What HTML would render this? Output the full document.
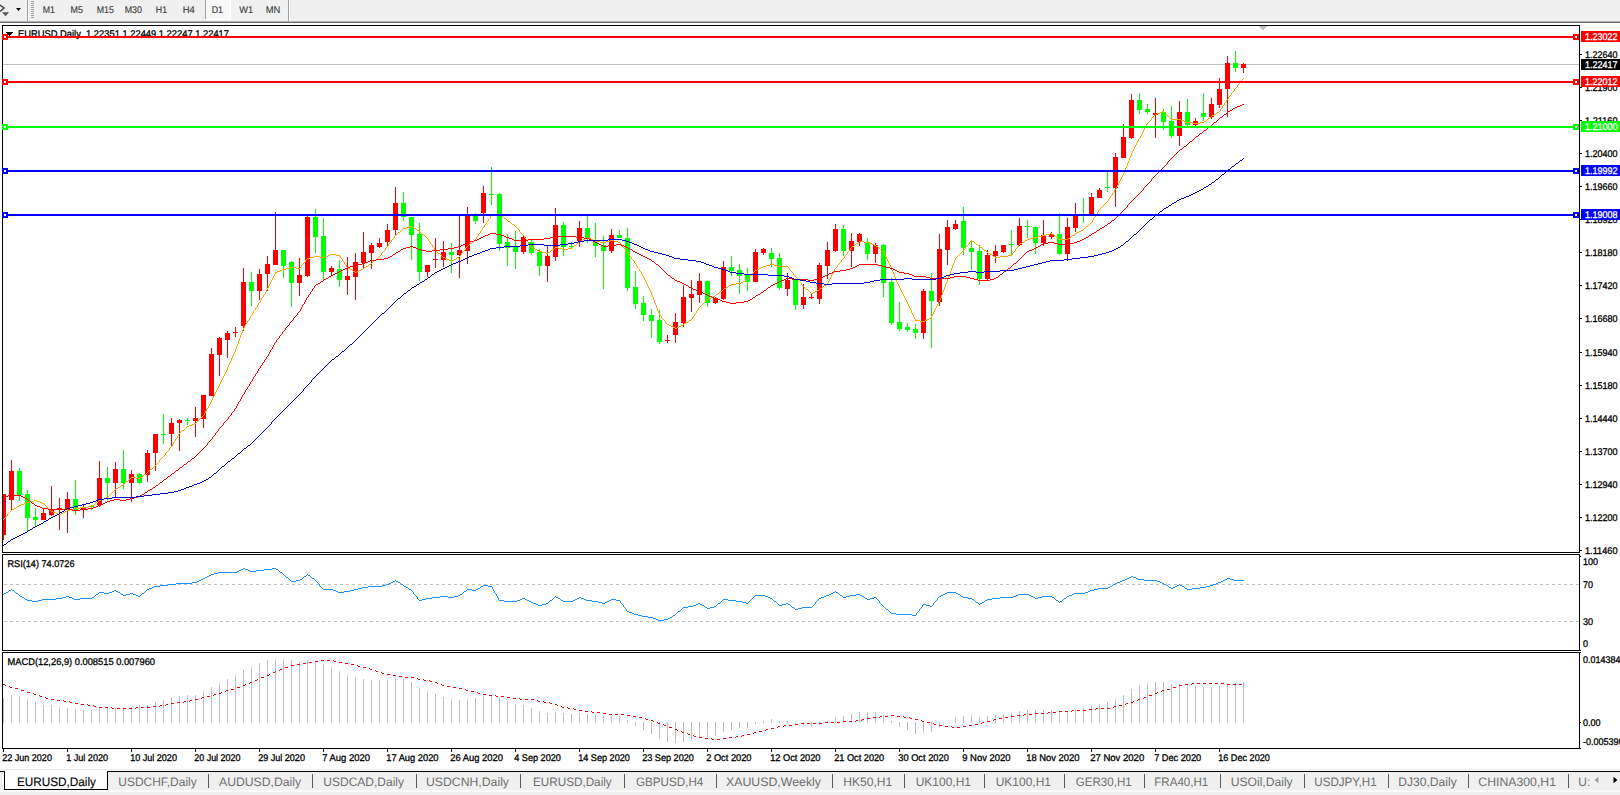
<!DOCTYPE html>
<html><head><meta charset="utf-8"><title>EURUSD,Daily</title>
<style>
html,body{margin:0;padding:0;background:#fff;overflow:hidden}
body{width:1620px;height:795px;position:relative;font-family:"Liberation Sans",sans-serif}
svg{position:absolute;left:0;top:0;display:block}
</style></head><body>
<svg width="1620" height="795" viewBox="0 0 1620 795" shape-rendering="crispEdges" text-rendering="geometricPrecision">
<rect x="0" y="0" width="1620" height="795" fill="#fff"/>
<!-- toolbar -->
<rect x="0" y="0" width="1620" height="21" fill="#f0f0f0"/>
<rect x="0" y="21" width="1620" height="1" fill="#b2b2b2"/>
<rect x="0" y="22" width="1620" height="1" fill="#6e6e6e"/>
<rect x="27" y="0" width="1" height="21" fill="#a0a0a0"/>
<rect x="28" y="0" width="1" height="21" fill="#ffffff"/>
<g fill="#a0a0a0"><rect x="31" y="1" width="3" height="1"/><rect x="31" y="3" width="3" height="1"/><rect x="31" y="5" width="3" height="1"/><rect x="31" y="7" width="3" height="1"/><rect x="31" y="9" width="3" height="1"/><rect x="31" y="11" width="3" height="1"/><rect x="31" y="13" width="3" height="1"/><rect x="31" y="15" width="3" height="1"/><rect x="31" y="17" width="3" height="1"/></g>
<rect x="206" y="0" width="24" height="19" fill="#f8f8f8"/>
<rect x="205" y="0" width="1" height="19" fill="#a0a0a0"/>
<rect x="206" y="19" width="25" height="1" fill="#fff"/><rect x="230" y="0" width="1" height="19" fill="#fff"/>
<rect x="288" y="0" width="1" height="21" fill="#a0a0a0"/><rect x="289" y="0" width="1" height="21" fill="#fff"/>
<path d="M16 8h5l-2.5 3z" fill="#000" shape-rendering="geometricPrecision"/>
<g shape-rendering="geometricPrecision"><path d="M0 5.2L4 8L0 11.5" stroke="#444" stroke-width="1.5" fill="none"/><path d="M2 12.3h7l-3.5 4z" fill="#555"/></g>
<g font-family="Liberation Sans, sans-serif" font-size="9px" fill="#444">
<text transform="translate(42.8,13) scale(0.9007,1)" font-size="9.75px" fill="#404040" stroke="#404040" stroke-width="0.15" xml:space="preserve">M1</text>
<text transform="translate(70.6,13) scale(0.9155,1)" font-size="9.75px" fill="#404040" stroke="#404040" stroke-width="0.15" xml:space="preserve">M5</text>
<text transform="translate(96.7,13) scale(0.9016,1)" font-size="9.75px" fill="#404040" stroke="#404040" stroke-width="0.15" xml:space="preserve">M15</text>
<text transform="translate(124.7,13) scale(0.9121,1)" font-size="9.75px" fill="#404040" stroke="#404040" stroke-width="0.15" xml:space="preserve">M30</text>
<text transform="translate(155.8,13) scale(0.8986,1)" font-size="9.75px" fill="#404040" stroke="#404040" stroke-width="0.15" xml:space="preserve">H1</text>
<text transform="translate(182.7,13) scale(0.9708,1)" font-size="9.75px" fill="#404040" stroke="#404040" stroke-width="0.15" xml:space="preserve">H4</text>
<text transform="translate(211.7,13) scale(0.9066,1)" font-size="9.75px" fill="#404040" stroke="#404040" stroke-width="0.15" xml:space="preserve">D1</text>
<text transform="translate(239.2,13) scale(0.9504,1)" font-size="9.75px" fill="#404040" stroke="#404040" stroke-width="0.15" xml:space="preserve">W1</text>
<text transform="translate(265.7,13) scale(0.9629,1)" font-size="9.75px" fill="#404040" stroke="#404040" stroke-width="0.15" xml:space="preserve">MN</text>
</g>
<!-- chart -->
<rect x="3" y="64" width="1576" height="1" fill="#c0c0c0"/>
<g font-family="Liberation Sans, sans-serif" font-size="9.3px" fill="#000">
<text transform="translate(18,37) scale(0.9588,1)" font-size="9.75px" fill="#000" stroke="#000" stroke-width="0.3" xml:space="preserve">EURUSD,Daily  1.22351 1.22449 1.22247 1.22417</text>
</g>
<path d="M6 32h7l-3.5 4z" fill="#000"/>
<path d="M1257 25h11l-5.5 5.5z" fill="#c0c0c0"/>
<rect x="3" y="494" width="1" height="46" fill="#ff0000"/>
<rect x="3" y="494" width="3" height="41" fill="#ff0000"/>
<rect x="11" y="460" width="1" height="51" fill="#ff0000"/>
<rect x="9" y="471" width="5" height="29" fill="#ff0000"/>
<rect x="19" y="468" width="1" height="33" fill="#00ff00"/>
<rect x="17" y="471" width="5" height="24" fill="#00ff00"/>
<rect x="27" y="490" width="1" height="41" fill="#00ff00"/>
<rect x="25" y="494" width="5" height="24" fill="#00ff00"/>
<rect x="35" y="508" width="1" height="19" fill="#00ff00"/>
<rect x="33" y="517" width="5" height="3" fill="#00ff00"/>
<rect x="43" y="509" width="1" height="11" fill="#ff0000"/>
<rect x="41" y="513" width="5" height="7" fill="#ff0000"/>
<rect x="51" y="486" width="1" height="30" fill="#ff0000"/>
<rect x="49" y="509" width="5" height="6" fill="#ff0000"/>
<rect x="59" y="498" width="1" height="32" fill="#ff0000"/>
<rect x="57" y="508" width="5" height="2" fill="#ff0000"/>
<rect x="67" y="492" width="1" height="41" fill="#ff0000"/>
<rect x="65" y="499" width="5" height="10" fill="#ff0000"/>
<rect x="75" y="480" width="1" height="35" fill="#00ff00"/>
<rect x="73" y="499" width="5" height="11" fill="#00ff00"/>
<rect x="83" y="505" width="1" height="13" fill="#ff0000"/>
<rect x="81" y="507" width="5" height="3" fill="#ff0000"/>
<rect x="91" y="505" width="1" height="5" fill="#00ff00"/>
<rect x="89" y="506" width="5" height="1" fill="#00ff00"/>
<rect x="99" y="461" width="1" height="46" fill="#ff0000"/>
<rect x="97" y="478" width="5" height="27" fill="#ff0000"/>
<rect x="107" y="467" width="1" height="33" fill="#00ff00"/>
<rect x="105" y="478" width="5" height="5" fill="#00ff00"/>
<rect x="115" y="462" width="1" height="36" fill="#ff0000"/>
<rect x="113" y="469" width="5" height="14" fill="#ff0000"/>
<rect x="123" y="450" width="1" height="39" fill="#00ff00"/>
<rect x="121" y="469" width="5" height="14" fill="#00ff00"/>
<rect x="131" y="470" width="1" height="32" fill="#ff0000"/>
<rect x="129" y="474" width="5" height="9" fill="#ff0000"/>
<rect x="139" y="473" width="1" height="11" fill="#00ff00"/>
<rect x="137" y="474" width="5" height="9" fill="#00ff00"/>
<rect x="147" y="450" width="1" height="32" fill="#ff0000"/>
<rect x="145" y="453" width="5" height="22" fill="#ff0000"/>
<rect x="155" y="434" width="1" height="37" fill="#ff0000"/>
<rect x="153" y="434" width="5" height="19" fill="#ff0000"/>
<rect x="163" y="414" width="1" height="30" fill="#00ff00"/>
<rect x="161" y="434" width="5" height="1" fill="#00ff00"/>
<rect x="171" y="418" width="1" height="29" fill="#ff0000"/>
<rect x="169" y="423" width="5" height="11" fill="#ff0000"/>
<rect x="179" y="419" width="1" height="32" fill="#ff0000"/>
<rect x="177" y="420" width="5" height="3" fill="#ff0000"/>
<rect x="187" y="418" width="1" height="7" fill="#00ff00"/>
<rect x="185" y="420" width="5" height="1" fill="#00ff00"/>
<rect x="195" y="407" width="1" height="30" fill="#ff0000"/>
<rect x="193" y="418" width="5" height="3" fill="#ff0000"/>
<rect x="203" y="395" width="1" height="33" fill="#ff0000"/>
<rect x="201" y="395" width="5" height="24" fill="#ff0000"/>
<rect x="211" y="348" width="1" height="48" fill="#ff0000"/>
<rect x="209" y="354" width="5" height="42" fill="#ff0000"/>
<rect x="219" y="337" width="1" height="39" fill="#ff0000"/>
<rect x="217" y="338" width="5" height="17" fill="#ff0000"/>
<rect x="227" y="331" width="1" height="27" fill="#ff0000"/>
<rect x="225" y="333" width="5" height="7" fill="#ff0000"/>
<rect x="235" y="327" width="1" height="10" fill="#ff0000"/>
<rect x="233" y="332" width="5" height="1" fill="#ff0000"/>
<rect x="243" y="268" width="1" height="63" fill="#ff0000"/>
<rect x="241" y="282" width="5" height="44" fill="#ff0000"/>
<rect x="251" y="272" width="1" height="34" fill="#00ff00"/>
<rect x="249" y="282" width="5" height="9" fill="#00ff00"/>
<rect x="259" y="269" width="1" height="31" fill="#ff0000"/>
<rect x="257" y="274" width="5" height="17" fill="#ff0000"/>
<rect x="267" y="256" width="1" height="35" fill="#ff0000"/>
<rect x="265" y="264" width="5" height="10" fill="#ff0000"/>
<rect x="275" y="212" width="1" height="53" fill="#ff0000"/>
<rect x="273" y="250" width="5" height="15" fill="#ff0000"/>
<rect x="283" y="250" width="1" height="28" fill="#00ff00"/>
<rect x="281" y="250" width="5" height="16" fill="#00ff00"/>
<rect x="291" y="261" width="1" height="46" fill="#00ff00"/>
<rect x="289" y="262" width="5" height="21" fill="#00ff00"/>
<rect x="299" y="258" width="1" height="38" fill="#ff0000"/>
<rect x="297" y="275" width="5" height="8" fill="#ff0000"/>
<rect x="307" y="215" width="1" height="62" fill="#ff0000"/>
<rect x="305" y="217" width="5" height="59" fill="#ff0000"/>
<rect x="315" y="209" width="1" height="44" fill="#00ff00"/>
<rect x="313" y="217" width="5" height="20" fill="#00ff00"/>
<rect x="323" y="218" width="1" height="63" fill="#00ff00"/>
<rect x="321" y="236" width="5" height="36" fill="#00ff00"/>
<rect x="331" y="266" width="1" height="9" fill="#ff0000"/>
<rect x="329" y="268" width="5" height="4" fill="#ff0000"/>
<rect x="339" y="260" width="1" height="27" fill="#00ff00"/>
<rect x="337" y="269" width="5" height="11" fill="#00ff00"/>
<rect x="347" y="257" width="1" height="38" fill="#ff0000"/>
<rect x="345" y="276" width="5" height="4" fill="#ff0000"/>
<rect x="355" y="253" width="1" height="47" fill="#ff0000"/>
<rect x="353" y="262" width="5" height="15" fill="#ff0000"/>
<rect x="363" y="232" width="1" height="36" fill="#ff0000"/>
<rect x="361" y="252" width="5" height="11" fill="#ff0000"/>
<rect x="371" y="243" width="1" height="26" fill="#ff0000"/>
<rect x="369" y="245" width="5" height="8" fill="#ff0000"/>
<rect x="379" y="238" width="1" height="10" fill="#ff0000"/>
<rect x="377" y="243" width="5" height="4" fill="#ff0000"/>
<rect x="387" y="224" width="1" height="22" fill="#ff0000"/>
<rect x="385" y="230" width="5" height="12" fill="#ff0000"/>
<rect x="395" y="187" width="1" height="48" fill="#ff0000"/>
<rect x="393" y="203" width="5" height="27" fill="#ff0000"/>
<rect x="403" y="192" width="1" height="29" fill="#00ff00"/>
<rect x="401" y="203" width="5" height="14" fill="#00ff00"/>
<rect x="411" y="217" width="1" height="43" fill="#00ff00"/>
<rect x="409" y="217" width="5" height="18" fill="#00ff00"/>
<rect x="419" y="223" width="1" height="58" fill="#00ff00"/>
<rect x="417" y="234" width="5" height="38" fill="#00ff00"/>
<rect x="427" y="265" width="1" height="12" fill="#ff0000"/>
<rect x="425" y="265" width="5" height="7" fill="#ff0000"/>
<rect x="435" y="238" width="1" height="30" fill="#ff0000"/>
<rect x="433" y="259" width="5" height="1" fill="#ff0000"/>
<rect x="443" y="241" width="1" height="26" fill="#ff0000"/>
<rect x="441" y="252" width="5" height="8" fill="#ff0000"/>
<rect x="451" y="243" width="1" height="30" fill="#00ff00"/>
<rect x="449" y="252" width="5" height="3" fill="#00ff00"/>
<rect x="459" y="216" width="1" height="62" fill="#ff0000"/>
<rect x="457" y="250" width="5" height="5" fill="#ff0000"/>
<rect x="467" y="207" width="1" height="57" fill="#ff0000"/>
<rect x="465" y="216" width="5" height="35" fill="#ff0000"/>
<rect x="475" y="213" width="1" height="11" fill="#00ff00"/>
<rect x="473" y="216" width="5" height="5" fill="#00ff00"/>
<rect x="483" y="186" width="1" height="37" fill="#ff0000"/>
<rect x="481" y="193" width="5" height="20" fill="#ff0000"/>
<rect x="491" y="167" width="1" height="38" fill="#00ff00"/>
<rect x="489" y="194" width="5" height="1" fill="#00ff00"/>
<rect x="499" y="193" width="1" height="58" fill="#00ff00"/>
<rect x="497" y="194" width="5" height="50" fill="#00ff00"/>
<rect x="507" y="234" width="1" height="32" fill="#00ff00"/>
<rect x="505" y="242" width="5" height="6" fill="#00ff00"/>
<rect x="515" y="231" width="1" height="38" fill="#00ff00"/>
<rect x="513" y="246" width="5" height="6" fill="#00ff00"/>
<rect x="523" y="236" width="1" height="18" fill="#ff0000"/>
<rect x="521" y="237" width="5" height="15" fill="#ff0000"/>
<rect x="531" y="239" width="1" height="16" fill="#00ff00"/>
<rect x="529" y="242" width="5" height="11" fill="#00ff00"/>
<rect x="539" y="249" width="1" height="27" fill="#00ff00"/>
<rect x="537" y="252" width="5" height="14" fill="#00ff00"/>
<rect x="547" y="246" width="1" height="36" fill="#ff0000"/>
<rect x="545" y="256" width="5" height="10" fill="#ff0000"/>
<rect x="555" y="208" width="1" height="53" fill="#ff0000"/>
<rect x="553" y="225" width="5" height="32" fill="#ff0000"/>
<rect x="563" y="222" width="1" height="34" fill="#00ff00"/>
<rect x="561" y="225" width="5" height="22" fill="#00ff00"/>
<rect x="571" y="242" width="1" height="6" fill="#00ff00"/>
<rect x="569" y="246" width="5" height="1" fill="#00ff00"/>
<rect x="579" y="221" width="1" height="26" fill="#ff0000"/>
<rect x="577" y="228" width="5" height="13" fill="#ff0000"/>
<rect x="587" y="216" width="1" height="27" fill="#00ff00"/>
<rect x="585" y="228" width="5" height="11" fill="#00ff00"/>
<rect x="595" y="223" width="1" height="34" fill="#00ff00"/>
<rect x="593" y="240" width="5" height="6" fill="#00ff00"/>
<rect x="603" y="236" width="1" height="53" fill="#00ff00"/>
<rect x="601" y="245" width="5" height="6" fill="#00ff00"/>
<rect x="611" y="229" width="1" height="24" fill="#ff0000"/>
<rect x="609" y="235" width="5" height="16" fill="#ff0000"/>
<rect x="619" y="230" width="1" height="8" fill="#00ff00"/>
<rect x="617" y="235" width="5" height="3" fill="#00ff00"/>
<rect x="627" y="228" width="1" height="63" fill="#00ff00"/>
<rect x="625" y="238" width="5" height="50" fill="#00ff00"/>
<rect x="635" y="271" width="1" height="38" fill="#00ff00"/>
<rect x="633" y="287" width="5" height="17" fill="#00ff00"/>
<rect x="643" y="296" width="1" height="25" fill="#00ff00"/>
<rect x="641" y="303" width="5" height="12" fill="#00ff00"/>
<rect x="651" y="309" width="1" height="29" fill="#00ff00"/>
<rect x="649" y="315" width="5" height="6" fill="#00ff00"/>
<rect x="659" y="310" width="1" height="34" fill="#00ff00"/>
<rect x="657" y="320" width="5" height="22" fill="#00ff00"/>
<rect x="667" y="335" width="1" height="8" fill="#ff0000"/>
<rect x="665" y="340" width="5" height="1" fill="#ff0000"/>
<rect x="675" y="313" width="1" height="30" fill="#ff0000"/>
<rect x="673" y="322" width="5" height="13" fill="#ff0000"/>
<rect x="683" y="285" width="1" height="42" fill="#ff0000"/>
<rect x="681" y="297" width="5" height="26" fill="#ff0000"/>
<rect x="691" y="280" width="1" height="32" fill="#ff0000"/>
<rect x="689" y="294" width="5" height="4" fill="#ff0000"/>
<rect x="699" y="273" width="1" height="30" fill="#ff0000"/>
<rect x="697" y="281" width="5" height="14" fill="#ff0000"/>
<rect x="707" y="281" width="1" height="26" fill="#00ff00"/>
<rect x="705" y="281" width="5" height="22" fill="#00ff00"/>
<rect x="715" y="297" width="1" height="7" fill="#ff0000"/>
<rect x="713" y="298" width="5" height="5" fill="#ff0000"/>
<rect x="723" y="261" width="1" height="39" fill="#ff0000"/>
<rect x="721" y="267" width="5" height="32" fill="#ff0000"/>
<rect x="731" y="256" width="1" height="20" fill="#00ff00"/>
<rect x="729" y="267" width="5" height="4" fill="#00ff00"/>
<rect x="739" y="264" width="1" height="30" fill="#00ff00"/>
<rect x="737" y="270" width="5" height="6" fill="#00ff00"/>
<rect x="747" y="268" width="1" height="23" fill="#00ff00"/>
<rect x="745" y="275" width="5" height="7" fill="#00ff00"/>
<rect x="755" y="249" width="1" height="33" fill="#ff0000"/>
<rect x="753" y="252" width="5" height="30" fill="#ff0000"/>
<rect x="763" y="248" width="1" height="7" fill="#ff0000"/>
<rect x="761" y="249" width="5" height="4" fill="#ff0000"/>
<rect x="771" y="248" width="1" height="19" fill="#00ff00"/>
<rect x="769" y="253" width="5" height="6" fill="#00ff00"/>
<rect x="779" y="253" width="1" height="37" fill="#00ff00"/>
<rect x="777" y="258" width="5" height="30" fill="#00ff00"/>
<rect x="787" y="273" width="1" height="23" fill="#ff0000"/>
<rect x="785" y="280" width="5" height="9" fill="#ff0000"/>
<rect x="795" y="280" width="1" height="30" fill="#00ff00"/>
<rect x="793" y="280" width="5" height="25" fill="#00ff00"/>
<rect x="803" y="284" width="1" height="25" fill="#ff0000"/>
<rect x="801" y="297" width="5" height="8" fill="#ff0000"/>
<rect x="811" y="293" width="1" height="6" fill="#ff0000"/>
<rect x="809" y="297" width="5" height="1" fill="#ff0000"/>
<rect x="819" y="263" width="1" height="41" fill="#ff0000"/>
<rect x="817" y="265" width="5" height="34" fill="#ff0000"/>
<rect x="827" y="242" width="1" height="37" fill="#ff0000"/>
<rect x="825" y="250" width="5" height="16" fill="#ff0000"/>
<rect x="835" y="224" width="1" height="28" fill="#ff0000"/>
<rect x="833" y="229" width="5" height="22" fill="#ff0000"/>
<rect x="843" y="225" width="1" height="31" fill="#00ff00"/>
<rect x="841" y="229" width="5" height="22" fill="#00ff00"/>
<rect x="851" y="233" width="1" height="34" fill="#ff0000"/>
<rect x="849" y="241" width="5" height="10" fill="#ff0000"/>
<rect x="859" y="233" width="1" height="13" fill="#ff0000"/>
<rect x="857" y="234" width="5" height="8" fill="#ff0000"/>
<rect x="867" y="238" width="1" height="22" fill="#00ff00"/>
<rect x="865" y="242" width="5" height="12" fill="#00ff00"/>
<rect x="875" y="243" width="1" height="20" fill="#ff0000"/>
<rect x="873" y="245" width="5" height="9" fill="#ff0000"/>
<rect x="883" y="244" width="1" height="53" fill="#00ff00"/>
<rect x="881" y="245" width="5" height="38" fill="#00ff00"/>
<rect x="891" y="278" width="1" height="47" fill="#00ff00"/>
<rect x="889" y="282" width="5" height="41" fill="#00ff00"/>
<rect x="899" y="302" width="1" height="29" fill="#00ff00"/>
<rect x="897" y="322" width="5" height="7" fill="#00ff00"/>
<rect x="907" y="323" width="1" height="9" fill="#00ff00"/>
<rect x="905" y="327" width="5" height="3" fill="#00ff00"/>
<rect x="915" y="324" width="1" height="15" fill="#00ff00"/>
<rect x="913" y="329" width="5" height="4" fill="#00ff00"/>
<rect x="923" y="289" width="1" height="50" fill="#ff0000"/>
<rect x="921" y="291" width="5" height="42" fill="#ff0000"/>
<rect x="931" y="273" width="1" height="75" fill="#00ff00"/>
<rect x="929" y="291" width="5" height="10" fill="#00ff00"/>
<rect x="939" y="234" width="1" height="72" fill="#ff0000"/>
<rect x="937" y="249" width="5" height="53" fill="#ff0000"/>
<rect x="947" y="220" width="1" height="45" fill="#ff0000"/>
<rect x="945" y="227" width="5" height="23" fill="#ff0000"/>
<rect x="955" y="220" width="1" height="10" fill="#ff0000"/>
<rect x="953" y="224" width="5" height="5" fill="#ff0000"/>
<rect x="963" y="207" width="1" height="48" fill="#00ff00"/>
<rect x="961" y="221" width="5" height="27" fill="#00ff00"/>
<rect x="971" y="240" width="1" height="30" fill="#00ff00"/>
<rect x="969" y="248" width="5" height="4" fill="#00ff00"/>
<rect x="979" y="245" width="1" height="40" fill="#00ff00"/>
<rect x="977" y="251" width="5" height="28" fill="#00ff00"/>
<rect x="987" y="250" width="1" height="30" fill="#ff0000"/>
<rect x="985" y="255" width="5" height="24" fill="#ff0000"/>
<rect x="995" y="245" width="1" height="18" fill="#ff0000"/>
<rect x="993" y="251" width="5" height="5" fill="#ff0000"/>
<rect x="1003" y="245" width="1" height="8" fill="#ff0000"/>
<rect x="1001" y="245" width="5" height="7" fill="#ff0000"/>
<rect x="1011" y="230" width="1" height="25" fill="#00ff00"/>
<rect x="1009" y="244" width="5" height="1" fill="#00ff00"/>
<rect x="1019" y="218" width="1" height="28" fill="#ff0000"/>
<rect x="1017" y="226" width="5" height="19" fill="#ff0000"/>
<rect x="1027" y="220" width="1" height="18" fill="#00ff00"/>
<rect x="1025" y="226" width="5" height="1" fill="#00ff00"/>
<rect x="1035" y="226" width="1" height="28" fill="#00ff00"/>
<rect x="1033" y="227" width="5" height="16" fill="#00ff00"/>
<rect x="1043" y="220" width="1" height="26" fill="#ff0000"/>
<rect x="1041" y="235" width="5" height="8" fill="#ff0000"/>
<rect x="1051" y="232" width="1" height="7" fill="#ff0000"/>
<rect x="1049" y="234" width="5" height="3" fill="#ff0000"/>
<rect x="1059" y="213" width="1" height="42" fill="#00ff00"/>
<rect x="1057" y="234" width="5" height="20" fill="#00ff00"/>
<rect x="1067" y="218" width="1" height="43" fill="#ff0000"/>
<rect x="1065" y="227" width="5" height="27" fill="#ff0000"/>
<rect x="1075" y="203" width="1" height="29" fill="#ff0000"/>
<rect x="1073" y="215" width="5" height="13" fill="#ff0000"/>
<rect x="1083" y="198" width="1" height="25" fill="#00ff00"/>
<rect x="1081" y="215" width="5" height="1" fill="#00ff00"/>
<rect x="1091" y="193" width="1" height="21" fill="#ff0000"/>
<rect x="1089" y="197" width="5" height="17" fill="#ff0000"/>
<rect x="1099" y="188" width="1" height="10" fill="#ff0000"/>
<rect x="1097" y="190" width="5" height="8" fill="#ff0000"/>
<rect x="1107" y="172" width="1" height="20" fill="#00ff00"/>
<rect x="1105" y="187" width="5" height="1" fill="#00ff00"/>
<rect x="1115" y="153" width="1" height="54" fill="#ff0000"/>
<rect x="1113" y="157" width="5" height="31" fill="#ff0000"/>
<rect x="1123" y="124" width="1" height="34" fill="#ff0000"/>
<rect x="1121" y="137" width="5" height="21" fill="#ff0000"/>
<rect x="1131" y="94" width="1" height="45" fill="#ff0000"/>
<rect x="1129" y="100" width="5" height="38" fill="#ff0000"/>
<rect x="1139" y="93" width="1" height="21" fill="#00ff00"/>
<rect x="1137" y="100" width="5" height="10" fill="#00ff00"/>
<rect x="1147" y="104" width="1" height="10" fill="#00ff00"/>
<rect x="1145" y="109" width="5" height="3" fill="#00ff00"/>
<rect x="1155" y="98" width="1" height="40" fill="#ff0000"/>
<rect x="1153" y="113" width="5" height="2" fill="#ff0000"/>
<rect x="1163" y="109" width="1" height="21" fill="#00ff00"/>
<rect x="1161" y="112" width="5" height="10" fill="#00ff00"/>
<rect x="1171" y="106" width="1" height="32" fill="#00ff00"/>
<rect x="1169" y="121" width="5" height="15" fill="#00ff00"/>
<rect x="1179" y="101" width="1" height="45" fill="#ff0000"/>
<rect x="1177" y="112" width="5" height="24" fill="#ff0000"/>
<rect x="1187" y="99" width="1" height="27" fill="#00ff00"/>
<rect x="1185" y="112" width="5" height="13" fill="#00ff00"/>
<rect x="1195" y="118" width="1" height="8" fill="#ff0000"/>
<rect x="1193" y="121" width="5" height="4" fill="#ff0000"/>
<rect x="1203" y="93" width="1" height="28" fill="#00ff00"/>
<rect x="1201" y="113" width="5" height="4" fill="#00ff00"/>
<rect x="1211" y="98" width="1" height="21" fill="#ff0000"/>
<rect x="1209" y="104" width="5" height="13" fill="#ff0000"/>
<rect x="1219" y="78" width="1" height="30" fill="#ff0000"/>
<rect x="1217" y="89" width="5" height="16" fill="#ff0000"/>
<rect x="1227" y="56" width="1" height="61" fill="#ff0000"/>
<rect x="1225" y="63" width="5" height="26" fill="#ff0000"/>
<rect x="1235" y="51" width="1" height="21" fill="#00ff00"/>
<rect x="1233" y="63" width="5" height="5" fill="#00ff00"/>
<rect x="1243" y="63" width="1" height="10" fill="#ff0000"/>
<rect x="1241" y="64" width="5" height="4" fill="#ff0000"/>
<path d="M1243 78h1v1h-1zM1242 79h1v1h-1zM1241 80h1v1h-1zM1241 81h1v1h-1zM1240 82h1v1h-1zM1239 83h1v1h-1zM1238 84h1v1h-1zM1237 85h1v1h-1zM1237 86h1v1h-1zM1236 87h1v1h-1zM1235 88h1v1h-1zM1234 89h1v1h-1zM1234 90h1v1h-1zM1233 91h1v1h-1zM1232 92h1v1h-1zM1231 93h1v1h-1zM1231 94h1v1h-1zM1230 95h1v1h-1zM1229 96h1v1h-1zM1228 97h1v1h-1zM1228 98h1v1h-1zM1227 99h1v1h-1zM1226 100h1v1h-1zM1226 101h1v1h-1zM1225 102h1v1h-1zM1224 103h1v1h-1zM1224 104h1v1h-1zM1223 105h1v1h-1zM1222 106h1v1h-1zM1222 107h1v1h-1zM1221 108h1v1h-1zM1220 109h1v1h-1zM1220 110h1v1h-1zM1162 111h2v1h-2zM1219 111h1v1h-1zM1160 112h2v1h-2zM1164 112h1v1h-1zM1217 112h2v1h-2zM1157 113h3v1h-3zM1165 113h1v1h-1zM1216 113h1v1h-1zM1155 114h2v1h-2zM1166 114h1v1h-1zM1214 114h2v1h-2zM1154 115h1v1h-1zM1167 115h1v1h-1zM1212 115h2v1h-2zM1153 116h1v1h-1zM1168 116h1v1h-1zM1211 116h1v1h-1zM1152 117h1v1h-1zM1169 117h1v1h-1zM1210 117h1v1h-1zM1151 118h1v1h-1zM1170 118h1v1h-1zM1208 118h2v1h-2zM1151 119h1v1h-1zM1171 119h10v1h-10zM1207 119h1v1h-1zM1150 120h1v1h-1zM1181 120h3v1h-3zM1206 120h1v1h-1zM1149 121h1v1h-1zM1184 121h2v1h-2zM1204 121h2v1h-2zM1148 122h1v1h-1zM1186 122h6v1h-6zM1200 122h4v1h-4zM1147 123h1v1h-1zM1192 123h8v1h-8zM1146 124h1v1h-1zM1146 125h1v1h-1zM1145 126h1v1h-1zM1145 127h1v1h-1zM1144 128h1v1h-1zM1144 129h1v1h-1zM1143 130h1v1h-1zM1143 131h1v1h-1zM1142 132h1v1h-1zM1142 133h1v1h-1zM1141 134h1v1h-1zM1141 135h1v1h-1zM1140 136h1v1h-1zM1140 137h1v1h-1zM1139 138h1v1h-1zM1138 139h1v1h-1zM1138 140h1v1h-1zM1137 141h1v1h-1zM1137 142h1v1h-1zM1136 143h1v1h-1zM1136 144h1v1h-1zM1135 145h1v1h-1zM1135 146h1v1h-1zM1134 147h1v1h-1zM1134 148h1v1h-1zM1133 149h1v1h-1zM1133 150h1v1h-1zM1132 151h1v1h-1zM1132 152h1v1h-1zM1131 153h1v1h-1zM1131 154h1v1h-1zM1131 155h1v1h-1zM1130 156h1v1h-1zM1130 157h1v1h-1zM1129 158h1v1h-1zM1129 159h1v1h-1zM1129 160h1v1h-1zM1128 161h1v1h-1zM1128 162h1v1h-1zM1127 163h1v1h-1zM1127 164h1v1h-1zM1127 165h1v1h-1zM1126 166h1v1h-1zM1126 167h1v1h-1zM1125 168h1v1h-1zM1125 169h1v1h-1zM1125 170h1v1h-1zM1124 171h1v1h-1zM1124 172h1v1h-1zM1123 173h1v1h-1zM1123 174h1v1h-1zM1122 175h1v1h-1zM1122 176h1v1h-1zM1121 177h1v1h-1zM1121 178h1v1h-1zM1120 179h1v1h-1zM1120 180h1v1h-1zM1119 181h1v1h-1zM1119 182h1v1h-1zM1118 183h1v1h-1zM1118 184h1v1h-1zM1117 185h1v1h-1zM1117 186h1v1h-1zM1116 187h1v1h-1zM1116 188h1v1h-1zM1115 189h1v1h-1zM1114 190h1v1h-1zM1114 191h1v1h-1zM1113 192h1v1h-1zM1112 193h1v1h-1zM1112 194h1v1h-1zM1111 195h1v1h-1zM1110 196h1v1h-1zM1110 197h1v1h-1zM1109 198h1v1h-1zM1108 199h1v1h-1zM1108 200h1v1h-1zM1107 201h1v1h-1zM1106 202h1v1h-1zM1105 203h1v1h-1zM1104 204h1v1h-1zM1103 205h1v1h-1zM1102 206h1v1h-1zM1101 207h1v1h-1zM1100 208h1v1h-1zM1099 209h1v1h-1zM1098 210h1v1h-1zM1098 211h1v1h-1zM1097 212h1v1h-1zM1097 213h1v1h-1zM496 214h4v1h-4zM1096 214h1v1h-1zM491 215h5v1h-5zM500 215h2v1h-2zM1095 215h1v1h-1zM490 216h1v1h-1zM502 216h1v1h-1zM1095 216h1v1h-1zM490 217h1v1h-1zM503 217h1v1h-1zM1094 217h1v1h-1zM489 218h1v1h-1zM504 218h2v1h-2zM1093 218h1v1h-1zM488 219h1v1h-1zM506 219h1v1h-1zM1093 219h1v1h-1zM488 220h1v1h-1zM507 220h1v1h-1zM1092 220h1v1h-1zM487 221h1v1h-1zM508 221h2v1h-2zM1092 221h1v1h-1zM486 222h1v1h-1zM510 222h1v1h-1zM1091 222h1v1h-1zM486 223h1v1h-1zM511 223h1v1h-1zM1090 223h1v1h-1zM485 224h1v1h-1zM512 224h2v1h-2zM1089 224h1v1h-1zM484 225h1v1h-1zM514 225h1v1h-1zM1088 225h1v1h-1zM410 226h2v1h-2zM484 226h1v1h-1zM515 226h1v1h-1zM1086 226h2v1h-2zM406 227h4v1h-4zM412 227h2v1h-2zM483 227h1v1h-1zM516 227h1v1h-1zM1085 227h1v1h-1zM403 228h3v1h-3zM414 228h2v1h-2zM482 228h1v1h-1zM517 228h1v1h-1zM1084 228h1v1h-1zM402 229h1v1h-1zM416 229h1v1h-1zM482 229h1v1h-1zM518 229h1v1h-1zM1083 229h1v1h-1zM401 230h1v1h-1zM417 230h2v1h-2zM481 230h1v1h-1zM519 230h1v1h-1zM1081 230h2v1h-2zM400 231h1v1h-1zM419 231h1v1h-1zM480 231h1v1h-1zM519 231h1v1h-1zM1079 231h2v1h-2zM398 232h2v1h-2zM420 232h1v1h-1zM480 232h1v1h-1zM520 232h1v1h-1zM1077 232h2v1h-2zM397 233h1v1h-1zM421 233h1v1h-1zM479 233h1v1h-1zM521 233h1v1h-1zM1050 233h2v1h-2zM1075 233h2v1h-2zM396 234h1v1h-1zM422 234h2v1h-2zM478 234h1v1h-1zM522 234h1v1h-1zM1046 234h4v1h-4zM1052 234h2v1h-2zM1074 234h1v1h-1zM395 235h1v1h-1zM424 235h1v1h-1zM478 235h1v1h-1zM523 235h1v1h-1zM1042 235h4v1h-4zM1054 235h1v1h-1zM1072 235h2v1h-2zM394 236h1v1h-1zM425 236h1v1h-1zM477 236h1v1h-1zM524 236h1v1h-1zM1038 236h4v1h-4zM1055 236h1v1h-1zM1071 236h1v1h-1zM394 237h1v1h-1zM426 237h1v1h-1zM476 237h1v1h-1zM524 237h1v1h-1zM587 237h2v1h-2zM1034 237h4v1h-4zM1056 237h2v1h-2zM1070 237h1v1h-1zM393 238h1v1h-1zM427 238h1v1h-1zM476 238h1v1h-1zM525 238h1v1h-1zM585 238h2v1h-2zM589 238h2v1h-2zM1030 238h4v1h-4zM1058 238h1v1h-1zM1068 238h2v1h-2zM392 239h1v1h-1zM428 239h1v1h-1zM475 239h1v1h-1zM526 239h1v1h-1zM583 239h2v1h-2zM591 239h2v1h-2zM1027 239h3v1h-3zM1059 239h9v1h-9zM391 240h1v1h-1zM428 240h1v1h-1zM474 240h1v1h-1zM526 240h1v1h-1zM581 240h2v1h-2zM593 240h2v1h-2zM610 240h4v1h-4zM971 240h1v1h-1zM1025 240h2v1h-2zM391 241h1v1h-1zM429 241h1v1h-1zM473 241h1v1h-1zM527 241h1v1h-1zM579 241h2v1h-2zM595 241h5v1h-5zM606 241h4v1h-4zM614 241h4v1h-4zM859 241h5v1h-5zM970 241h1v1h-1zM972 241h2v1h-2zM1024 241h1v1h-1zM390 242h1v1h-1zM430 242h1v1h-1zM472 242h1v1h-1zM528 242h1v1h-1zM578 242h1v1h-1zM600 242h6v1h-6zM618 242h2v1h-2zM858 242h1v1h-1zM864 242h5v1h-5zM969 242h1v1h-1zM974 242h1v1h-1zM1022 242h2v1h-2zM389 243h1v1h-1zM430 243h1v1h-1zM470 243h2v1h-2zM528 243h1v1h-1zM577 243h1v1h-1zM620 243h1v1h-1zM856 243h2v1h-2zM869 243h3v1h-3zM969 243h1v1h-1zM975 243h1v1h-1zM1020 243h2v1h-2zM388 244h1v1h-1zM431 244h1v1h-1zM469 244h1v1h-1zM529 244h1v1h-1zM576 244h1v1h-1zM621 244h1v1h-1zM855 244h1v1h-1zM872 244h2v1h-2zM968 244h1v1h-1zM976 244h2v1h-2zM1019 244h1v1h-1zM388 245h1v1h-1zM432 245h1v1h-1zM468 245h1v1h-1zM530 245h1v1h-1zM574 245h2v1h-2zM621 245h1v1h-1zM854 245h1v1h-1zM874 245h2v1h-2zM967 245h1v1h-1zM978 245h1v1h-1zM1018 245h1v1h-1zM387 246h1v1h-1zM432 246h1v1h-1zM467 246h1v1h-1zM530 246h1v1h-1zM573 246h1v1h-1zM622 246h1v1h-1zM852 246h2v1h-2zM876 246h2v1h-2zM966 246h1v1h-1zM979 246h1v1h-1zM1018 246h1v1h-1zM386 247h1v1h-1zM433 247h1v1h-1zM466 247h1v1h-1zM531 247h2v1h-2zM555 247h3v1h-3zM572 247h1v1h-1zM623 247h1v1h-1zM851 247h1v1h-1zM878 247h1v1h-1zM965 247h1v1h-1zM980 247h2v1h-2zM1017 247h1v1h-1zM385 248h1v1h-1zM434 248h1v1h-1zM465 248h1v1h-1zM533 248h2v1h-2zM554 248h1v1h-1zM558 248h4v1h-4zM568 248h4v1h-4zM624 248h1v1h-1zM850 248h1v1h-1zM879 248h1v1h-1zM965 248h1v1h-1zM982 248h1v1h-1zM1016 248h1v1h-1zM385 249h1v1h-1zM434 249h1v1h-1zM465 249h1v1h-1zM535 249h2v1h-2zM552 249h2v1h-2zM562 249h6v1h-6zM625 249h1v1h-1zM850 249h1v1h-1zM880 249h2v1h-2zM964 249h1v1h-1zM983 249h1v1h-1zM1015 249h1v1h-1zM384 250h1v1h-1zM435 250h1v1h-1zM464 250h1v1h-1zM537 250h2v1h-2zM551 250h1v1h-1zM625 250h1v1h-1zM849 250h1v1h-1zM882 250h1v1h-1zM963 250h1v1h-1zM984 250h2v1h-2zM1015 250h1v1h-1zM383 251h1v1h-1zM436 251h1v1h-1zM463 251h1v1h-1zM539 251h3v1h-3zM550 251h1v1h-1zM626 251h1v1h-1zM848 251h1v1h-1zM883 251h1v1h-1zM962 251h1v1h-1zM986 251h1v1h-1zM1014 251h1v1h-1zM382 252h1v1h-1zM437 252h1v1h-1zM462 252h1v1h-1zM542 252h4v1h-4zM548 252h2v1h-2zM627 252h1v1h-1zM847 252h1v1h-1zM883 252h1v1h-1zM961 252h1v1h-1zM987 252h1v1h-1zM1013 252h1v1h-1zM381 253h1v1h-1zM438 253h2v1h-2zM461 253h1v1h-1zM546 253h2v1h-2zM628 253h1v1h-1zM847 253h1v1h-1zM884 253h1v1h-1zM960 253h1v1h-1zM988 253h2v1h-2zM1012 253h1v1h-1zM330 254h6v1h-6zM381 254h1v1h-1zM440 254h1v1h-1zM461 254h1v1h-1zM628 254h1v1h-1zM846 254h1v1h-1zM884 254h1v1h-1zM959 254h1v1h-1zM990 254h2v1h-2zM1012 254h1v1h-1zM328 255h2v1h-2zM336 255h4v1h-4zM380 255h1v1h-1zM441 255h1v1h-1zM460 255h1v1h-1zM629 255h1v1h-1zM845 255h1v1h-1zM885 255h1v1h-1zM958 255h1v1h-1zM992 255h1v1h-1zM1008 255h4v1h-4zM314 256h6v1h-6zM325 256h3v1h-3zM340 256h1v1h-1zM379 256h1v1h-1zM442 256h1v1h-1zM459 256h1v1h-1zM630 256h1v1h-1zM844 256h1v1h-1zM885 256h1v1h-1zM957 256h1v1h-1zM993 256h2v1h-2zM1000 256h8v1h-8zM310 257h4v1h-4zM320 257h5v1h-5zM340 257h1v1h-1zM378 257h1v1h-1zM443 257h2v1h-2zM457 257h2v1h-2zM631 257h1v1h-1zM844 257h1v1h-1zM886 257h1v1h-1zM956 257h1v1h-1zM995 257h5v1h-5zM307 258h3v1h-3zM341 258h1v1h-1zM377 258h1v1h-1zM445 258h2v1h-2zM456 258h1v1h-1zM631 258h1v1h-1zM843 258h1v1h-1zM886 258h1v1h-1zM955 258h1v1h-1zM306 259h1v1h-1zM342 259h1v1h-1zM376 259h1v1h-1zM447 259h2v1h-2zM454 259h2v1h-2zM632 259h1v1h-1zM842 259h1v1h-1zM887 259h1v1h-1zM955 259h1v1h-1zM305 260h1v1h-1zM342 260h1v1h-1zM374 260h2v1h-2zM449 260h2v1h-2zM452 260h2v1h-2zM633 260h1v1h-1zM841 260h1v1h-1zM887 260h1v1h-1zM954 260h1v1h-1zM305 261h1v1h-1zM343 261h1v1h-1zM373 261h1v1h-1zM451 261h1v1h-1zM634 261h1v1h-1zM841 261h1v1h-1zM888 261h1v1h-1zM954 261h1v1h-1zM304 262h1v1h-1zM344 262h1v1h-1zM372 262h1v1h-1zM634 262h1v1h-1zM840 262h1v1h-1zM888 262h1v1h-1zM954 262h1v1h-1zM303 263h1v1h-1zM344 263h1v1h-1zM371 263h1v1h-1zM635 263h1v1h-1zM839 263h1v1h-1zM889 263h1v1h-1zM953 263h1v1h-1zM302 264h1v1h-1zM345 264h1v1h-1zM369 264h2v1h-2zM636 264h1v1h-1zM770 264h4v1h-4zM838 264h1v1h-1zM889 264h1v1h-1zM953 264h1v1h-1zM301 265h1v1h-1zM346 265h1v1h-1zM368 265h1v1h-1zM636 265h1v1h-1zM766 265h4v1h-4zM774 265h4v1h-4zM837 265h1v1h-1zM890 265h1v1h-1zM952 265h1v1h-1zM301 266h1v1h-1zM346 266h1v1h-1zM366 266h2v1h-2zM637 266h1v1h-1zM763 266h3v1h-3zM778 266h10v1h-10zM837 266h1v1h-1zM890 266h1v1h-1zM952 266h1v1h-1zM290 267h6v1h-6zM300 267h1v1h-1zM347 267h1v1h-1zM364 267h2v1h-2zM637 267h1v1h-1zM761 267h2v1h-2zM788 267h1v1h-1zM836 267h1v1h-1zM891 267h1v1h-1zM952 267h1v1h-1zM286 268h4v1h-4zM296 268h4v1h-4zM348 268h2v1h-2zM363 268h1v1h-1zM638 268h1v1h-1zM759 268h2v1h-2zM789 268h1v1h-1zM835 268h1v1h-1zM891 268h1v1h-1zM951 268h1v1h-1zM282 269h4v1h-4zM350 269h2v1h-2zM361 269h2v1h-2zM639 269h1v1h-1zM757 269h2v1h-2zM789 269h1v1h-1zM834 269h1v1h-1zM891 269h1v1h-1zM951 269h1v1h-1zM280 270h2v1h-2zM352 270h1v1h-1zM359 270h2v1h-2zM639 270h1v1h-1zM755 270h2v1h-2zM790 270h1v1h-1zM834 270h1v1h-1zM892 270h1v1h-1zM951 270h1v1h-1zM277 271h3v1h-3zM353 271h2v1h-2zM357 271h2v1h-2zM640 271h1v1h-1zM754 271h1v1h-1zM791 271h1v1h-1zM833 271h1v1h-1zM892 271h1v1h-1zM950 271h1v1h-1zM275 272h2v1h-2zM355 272h2v1h-2zM641 272h1v1h-1zM753 272h1v1h-1zM792 272h1v1h-1zM833 272h1v1h-1zM893 272h1v1h-1zM950 272h1v1h-1zM275 273h1v1h-1zM641 273h1v1h-1zM752 273h1v1h-1zM793 273h1v1h-1zM832 273h1v1h-1zM893 273h1v1h-1zM950 273h1v1h-1zM274 274h1v1h-1zM642 274h1v1h-1zM751 274h1v1h-1zM793 274h1v1h-1zM832 274h1v1h-1zM894 274h1v1h-1zM949 274h1v1h-1zM274 275h1v1h-1zM642 275h1v1h-1zM751 275h1v1h-1zM794 275h1v1h-1zM831 275h1v1h-1zM894 275h1v1h-1zM949 275h1v1h-1zM273 276h1v1h-1zM643 276h1v1h-1zM750 276h1v1h-1zM795 276h1v1h-1zM831 276h1v1h-1zM894 276h1v1h-1zM948 276h1v1h-1zM273 277h1v1h-1zM643 277h1v1h-1zM749 277h1v1h-1zM796 277h1v1h-1zM830 277h1v1h-1zM895 277h1v1h-1zM948 277h1v1h-1zM272 278h1v1h-1zM644 278h1v1h-1zM748 278h1v1h-1zM797 278h1v1h-1zM830 278h1v1h-1zM895 278h1v1h-1zM948 278h1v1h-1zM272 279h1v1h-1zM644 279h1v1h-1zM747 279h1v1h-1zM797 279h1v1h-1zM829 279h1v1h-1zM896 279h1v1h-1zM947 279h1v1h-1zM271 280h1v1h-1zM645 280h1v1h-1zM745 280h2v1h-2zM798 280h1v1h-1zM829 280h1v1h-1zM896 280h1v1h-1zM947 280h1v1h-1zM271 281h1v1h-1zM645 281h1v1h-1zM743 281h2v1h-2zM799 281h1v1h-1zM828 281h1v1h-1zM896 281h1v1h-1zM947 281h1v1h-1zM270 282h1v1h-1zM646 282h1v1h-1zM741 282h2v1h-2zM800 282h1v1h-1zM828 282h1v1h-1zM897 282h1v1h-1zM946 282h1v1h-1zM270 283h1v1h-1zM646 283h1v1h-1zM736 283h5v1h-5zM801 283h1v1h-1zM827 283h1v1h-1zM897 283h1v1h-1zM946 283h1v1h-1zM269 284h1v1h-1zM647 284h1v1h-1zM731 284h5v1h-5zM801 284h1v1h-1zM826 284h1v1h-1zM898 284h1v1h-1zM945 284h1v1h-1zM269 285h1v1h-1zM647 285h1v1h-1zM729 285h2v1h-2zM802 285h1v1h-1zM824 285h2v1h-2zM898 285h1v1h-1zM945 285h1v1h-1zM268 286h1v1h-1zM648 286h1v1h-1zM728 286h1v1h-1zM803 286h1v1h-1zM823 286h1v1h-1zM899 286h1v1h-1zM945 286h1v1h-1zM268 287h1v1h-1zM648 287h1v1h-1zM726 287h2v1h-2zM804 287h1v1h-1zM822 287h1v1h-1zM899 287h1v1h-1zM944 287h1v1h-1zM267 288h1v1h-1zM649 288h1v1h-1zM724 288h2v1h-2zM805 288h1v1h-1zM820 288h2v1h-2zM900 288h1v1h-1zM944 288h1v1h-1zM267 289h1v1h-1zM649 289h1v1h-1zM723 289h1v1h-1zM806 289h2v1h-2zM819 289h1v1h-1zM900 289h1v1h-1zM944 289h1v1h-1zM266 290h1v1h-1zM650 290h1v1h-1zM722 290h1v1h-1zM808 290h1v1h-1zM817 290h2v1h-2zM901 290h1v1h-1zM943 290h1v1h-1zM266 291h1v1h-1zM650 291h1v1h-1zM720 291h2v1h-2zM809 291h1v1h-1zM815 291h2v1h-2zM901 291h1v1h-1zM943 291h1v1h-1zM265 292h1v1h-1zM651 292h1v1h-1zM719 292h1v1h-1zM810 292h1v1h-1zM813 292h2v1h-2zM902 292h1v1h-1zM942 292h1v1h-1zM265 293h1v1h-1zM651 293h1v1h-1zM718 293h1v1h-1zM811 293h2v1h-2zM902 293h1v1h-1zM942 293h1v1h-1zM264 294h1v1h-1zM651 294h1v1h-1zM716 294h2v1h-2zM903 294h1v1h-1zM942 294h1v1h-1zM263 295h1v1h-1zM652 295h1v1h-1zM715 295h1v1h-1zM903 295h1v1h-1zM941 295h1v1h-1zM263 296h1v1h-1zM652 296h1v1h-1zM713 296h2v1h-2zM904 296h1v1h-1zM941 296h1v1h-1zM262 297h1v1h-1zM653 297h1v1h-1zM711 297h2v1h-2zM904 297h1v1h-1zM941 297h1v1h-1zM261 298h1v1h-1zM653 298h1v1h-1zM709 298h2v1h-2zM905 298h1v1h-1zM940 298h1v1h-1zM261 299h1v1h-1zM653 299h1v1h-1zM707 299h2v1h-2zM905 299h1v1h-1zM940 299h1v1h-1zM260 300h1v1h-1zM654 300h1v1h-1zM706 300h1v1h-1zM906 300h1v1h-1zM939 300h1v1h-1zM260 301h1v1h-1zM654 301h1v1h-1zM705 301h1v1h-1zM906 301h1v1h-1zM939 301h1v1h-1zM259 302h1v1h-1zM654 302h1v1h-1zM704 302h1v1h-1zM907 302h1v1h-1zM938 302h1v1h-1zM258 303h1v1h-1zM655 303h1v1h-1zM703 303h1v1h-1zM907 303h1v1h-1zM938 303h1v1h-1zM258 304h1v1h-1zM655 304h1v1h-1zM702 304h1v1h-1zM908 304h1v1h-1zM937 304h1v1h-1zM257 305h1v1h-1zM656 305h1v1h-1zM701 305h1v1h-1zM908 305h1v1h-1zM937 305h1v1h-1zM257 306h1v1h-1zM656 306h1v1h-1zM700 306h1v1h-1zM909 306h1v1h-1zM936 306h1v1h-1zM256 307h1v1h-1zM656 307h1v1h-1zM699 307h1v1h-1zM909 307h1v1h-1zM936 307h1v1h-1zM255 308h1v1h-1zM657 308h1v1h-1zM698 308h1v1h-1zM910 308h1v1h-1zM935 308h1v1h-1zM255 309h1v1h-1zM657 309h1v1h-1zM698 309h1v1h-1zM910 309h1v1h-1zM935 309h1v1h-1zM254 310h1v1h-1zM657 310h1v1h-1zM697 310h1v1h-1zM911 310h1v1h-1zM934 310h1v1h-1zM253 311h1v1h-1zM658 311h1v1h-1zM696 311h1v1h-1zM911 311h1v1h-1zM934 311h1v1h-1zM253 312h1v1h-1zM658 312h1v1h-1zM696 312h1v1h-1zM911 312h1v1h-1zM933 312h1v1h-1zM252 313h1v1h-1zM659 313h1v1h-1zM695 313h1v1h-1zM912 313h1v1h-1zM933 313h1v1h-1zM252 314h1v1h-1zM659 314h1v1h-1zM694 314h1v1h-1zM912 314h1v1h-1zM932 314h1v1h-1zM251 315h1v1h-1zM660 315h1v1h-1zM694 315h1v1h-1zM913 315h1v1h-1zM932 315h1v1h-1zM250 316h1v1h-1zM661 316h1v1h-1zM693 316h1v1h-1zM913 316h1v1h-1zM931 316h1v1h-1zM250 317h1v1h-1zM661 317h1v1h-1zM692 317h1v1h-1zM914 317h1v1h-1zM931 317h1v1h-1zM249 318h1v1h-1zM662 318h1v1h-1zM692 318h1v1h-1zM914 318h1v1h-1zM929 318h2v1h-2zM249 319h1v1h-1zM663 319h1v1h-1zM691 319h1v1h-1zM915 319h1v1h-1zM927 319h2v1h-2zM248 320h1v1h-1zM664 320h1v1h-1zM689 320h2v1h-2zM915 320h5v1h-5zM925 320h2v1h-2zM247 321h1v1h-1zM665 321h1v1h-1zM688 321h1v1h-1zM920 321h5v1h-5zM247 322h1v1h-1zM665 322h1v1h-1zM686 322h2v1h-2zM246 323h1v1h-1zM666 323h1v1h-1zM684 323h2v1h-2zM245 324h1v1h-1zM667 324h2v1h-2zM683 324h1v1h-1zM245 325h1v1h-1zM669 325h2v1h-2zM681 325h2v1h-2zM244 326h1v1h-1zM671 326h2v1h-2zM679 326h2v1h-2zM244 327h1v1h-1zM673 327h2v1h-2zM677 327h2v1h-2zM243 328h1v1h-1zM675 328h2v1h-2zM243 329h1v1h-1zM242 330h1v1h-1zM242 331h1v1h-1zM242 332h1v1h-1zM241 333h1v1h-1zM241 334h1v1h-1zM240 335h1v1h-1zM240 336h1v1h-1zM240 337h1v1h-1zM239 338h1v1h-1zM239 339h1v1h-1zM239 340h1v1h-1zM238 341h1v1h-1zM238 342h1v1h-1zM238 343h1v1h-1zM237 344h1v1h-1zM237 345h1v1h-1zM236 346h1v1h-1zM236 347h1v1h-1zM236 348h1v1h-1zM235 349h1v1h-1zM235 350h1v1h-1zM235 351h1v1h-1zM234 352h1v1h-1zM234 353h1v1h-1zM233 354h1v1h-1zM233 355h1v1h-1zM232 356h1v1h-1zM232 357h1v1h-1zM231 358h1v1h-1zM231 359h1v1h-1zM231 360h1v1h-1zM230 361h1v1h-1zM230 362h1v1h-1zM229 363h1v1h-1zM229 364h1v1h-1zM228 365h1v1h-1zM228 366h1v1h-1zM227 367h1v1h-1zM227 368h1v1h-1zM227 369h1v1h-1zM226 370h1v1h-1zM226 371h1v1h-1zM225 372h1v1h-1zM225 373h1v1h-1zM224 374h1v1h-1zM224 375h1v1h-1zM223 376h1v1h-1zM223 377h1v1h-1zM222 378h1v1h-1zM222 379h1v1h-1zM221 380h1v1h-1zM221 381h1v1h-1zM220 382h1v1h-1zM220 383h1v1h-1zM219 384h1v1h-1zM219 385h1v1h-1zM218 386h1v1h-1zM218 387h1v1h-1zM217 388h1v1h-1zM217 389h1v1h-1zM216 390h1v1h-1zM216 391h1v1h-1zM215 392h1v1h-1zM215 393h1v1h-1zM214 394h1v1h-1zM214 395h1v1h-1zM213 396h1v1h-1zM213 397h1v1h-1zM212 398h1v1h-1zM212 399h1v1h-1zM211 400h1v1h-1zM211 401h1v1h-1zM210 402h1v1h-1zM210 403h1v1h-1zM209 404h1v1h-1zM209 405h1v1h-1zM208 406h1v1h-1zM208 407h1v1h-1zM207 408h1v1h-1zM206 409h1v1h-1zM206 410h1v1h-1zM205 411h1v1h-1zM205 412h1v1h-1zM204 413h1v1h-1zM204 414h1v1h-1zM203 415h1v1h-1zM202 416h1v1h-1zM201 417h1v1h-1zM200 418h1v1h-1zM199 419h1v1h-1zM198 420h1v1h-1zM197 421h1v1h-1zM196 422h1v1h-1zM194 423h2v1h-2zM192 424h2v1h-2zM189 425h3v1h-3zM187 426h2v1h-2zM186 427h1v1h-1zM185 428h1v1h-1zM184 429h1v1h-1zM182 430h2v1h-2zM181 431h1v1h-1zM180 432h1v1h-1zM179 433h1v1h-1zM178 434h1v1h-1zM178 435h1v1h-1zM177 436h1v1h-1zM177 437h1v1h-1zM176 438h1v1h-1zM175 439h1v1h-1zM175 440h1v1h-1zM174 441h1v1h-1zM173 442h1v1h-1zM173 443h1v1h-1zM172 444h1v1h-1zM172 445h1v1h-1zM171 446h1v1h-1zM170 447h1v1h-1zM169 448h1v1h-1zM169 449h1v1h-1zM168 450h1v1h-1zM167 451h1v1h-1zM166 452h1v1h-1zM165 453h1v1h-1zM165 454h1v1h-1zM164 455h1v1h-1zM163 456h1v1h-1zM162 457h1v1h-1zM161 458h1v1h-1zM160 459h1v1h-1zM159 460h1v1h-1zM159 461h1v1h-1zM158 462h1v1h-1zM157 463h1v1h-1zM156 464h1v1h-1zM155 465h1v1h-1zM154 466h1v1h-1zM153 467h1v1h-1zM152 468h1v1h-1zM150 469h2v1h-2zM149 470h1v1h-1zM148 471h1v1h-1zM147 472h1v1h-1zM146 473h1v1h-1zM144 474h2v1h-2zM143 475h1v1h-1zM142 476h1v1h-1zM131 477h5v1h-5zM140 477h2v1h-2zM130 478h1v1h-1zM136 478h4v1h-4zM129 479h1v1h-1zM128 480h1v1h-1zM126 481h2v1h-2zM125 482h1v1h-1zM124 483h1v1h-1zM123 484h1v1h-1zM121 485h2v1h-2zM120 486h1v1h-1zM118 487h2v1h-2zM116 488h2v1h-2zM115 489h1v1h-1zM114 490h1v1h-1zM113 491h1v1h-1zM112 492h1v1h-1zM111 493h1v1h-1zM110 494h1v1h-1zM109 495h1v1h-1zM108 496h1v1h-1zM106 497h2v1h-2zM104 498h2v1h-2zM101 499h3v1h-3zM34 500h3v1h-3zM99 500h2v1h-2zM30 501h4v1h-4zM37 501h3v1h-3zM98 501h1v1h-1zM26 502h4v1h-4zM40 502h2v1h-2zM96 502h2v1h-2zM24 503h2v1h-2zM42 503h2v1h-2zM95 503h1v1h-1zM21 504h3v1h-3zM44 504h1v1h-1zM94 504h1v1h-1zM19 505h2v1h-2zM45 505h1v1h-1zM92 505h2v1h-2zM17 506h2v1h-2zM46 506h1v1h-1zM88 506h4v1h-4zM16 507h1v1h-1zM47 507h1v1h-1zM80 507h8v1h-8zM14 508h2v1h-2zM48 508h1v1h-1zM74 508h6v1h-6zM12 509h2v1h-2zM49 509h1v1h-1zM70 509h4v1h-4zM11 510h1v1h-1zM50 510h1v1h-1zM67 510h3v1h-3zM10 511h1v1h-1zM51 511h2v1h-2zM65 511h2v1h-2zM9 512h1v1h-1zM53 512h3v1h-3zM63 512h2v1h-2zM8 513h1v1h-1zM56 513h2v1h-2zM61 513h2v1h-2zM7 514h1v1h-1zM58 514h3v1h-3zM7 515h1v1h-1zM6 516h1v1h-1zM5 517h1v1h-1zM4 518h1v1h-1zM3 519h1v1h-1z" fill="#ffa500"/>
<path d="M1242 104h2v1h-2zM1240 105h2v1h-2zM1237 106h3v1h-3zM1235 107h2v1h-2zM1233 108h2v1h-2zM1232 109h1v1h-1zM1230 110h2v1h-2zM1228 111h2v1h-2zM1227 112h1v1h-1zM1226 113h1v1h-1zM1224 114h2v1h-2zM1223 115h1v1h-1zM1222 116h1v1h-1zM1220 117h2v1h-2zM1219 118h1v1h-1zM1218 119h1v1h-1zM1217 120h1v1h-1zM1216 121h1v1h-1zM1214 122h2v1h-2zM1213 123h1v1h-1zM1212 124h1v1h-1zM1211 125h1v1h-1zM1210 126h1v1h-1zM1208 127h2v1h-2zM1207 128h1v1h-1zM1206 129h1v1h-1zM1204 130h2v1h-2zM1203 131h1v1h-1zM1202 132h1v1h-1zM1200 133h2v1h-2zM1199 134h1v1h-1zM1198 135h1v1h-1zM1196 136h2v1h-2zM1195 137h1v1h-1zM1194 138h1v1h-1zM1193 139h1v1h-1zM1192 140h1v1h-1zM1190 141h2v1h-2zM1189 142h1v1h-1zM1188 143h1v1h-1zM1187 144h1v1h-1zM1186 145h1v1h-1zM1184 146h2v1h-2zM1183 147h1v1h-1zM1182 148h1v1h-1zM1180 149h2v1h-2zM1179 150h1v1h-1zM1178 151h1v1h-1zM1177 152h1v1h-1zM1176 153h1v1h-1zM1175 154h1v1h-1zM1174 155h1v1h-1zM1173 156h1v1h-1zM1172 157h1v1h-1zM1171 158h1v1h-1zM1170 159h1v1h-1zM1169 160h1v1h-1zM1168 161h1v1h-1zM1167 162h1v1h-1zM1167 163h1v1h-1zM1166 164h1v1h-1zM1165 165h1v1h-1zM1164 166h1v1h-1zM1163 167h1v1h-1zM1162 168h1v1h-1zM1161 169h1v1h-1zM1160 170h1v1h-1zM1159 171h1v1h-1zM1158 172h1v1h-1zM1157 173h1v1h-1zM1156 174h1v1h-1zM1155 175h1v1h-1zM1154 176h1v1h-1zM1153 177h1v1h-1zM1152 178h1v1h-1zM1151 179h1v1h-1zM1151 180h1v1h-1zM1150 181h1v1h-1zM1149 182h1v1h-1zM1148 183h1v1h-1zM1147 184h1v1h-1zM1146 185h1v1h-1zM1145 186h1v1h-1zM1144 187h1v1h-1zM1143 188h1v1h-1zM1143 189h1v1h-1zM1142 190h1v1h-1zM1141 191h1v1h-1zM1140 192h1v1h-1zM1139 193h1v1h-1zM1138 194h1v1h-1zM1137 195h1v1h-1zM1136 196h1v1h-1zM1135 197h1v1h-1zM1134 198h1v1h-1zM1133 199h1v1h-1zM1132 200h1v1h-1zM1131 201h1v1h-1zM1130 202h1v1h-1zM1129 203h1v1h-1zM1128 204h1v1h-1zM1127 205h1v1h-1zM1127 206h1v1h-1zM1126 207h1v1h-1zM1125 208h1v1h-1zM1124 209h1v1h-1zM1123 210h1v1h-1zM1122 211h1v1h-1zM1121 212h1v1h-1zM1120 213h1v1h-1zM1119 214h1v1h-1zM1118 215h1v1h-1zM1117 216h1v1h-1zM1116 217h1v1h-1zM1115 218h1v1h-1zM1114 219h1v1h-1zM1112 220h2v1h-2zM1111 221h1v1h-1zM1110 222h1v1h-1zM1108 223h2v1h-2zM1107 224h1v1h-1zM1105 225h2v1h-2zM1104 226h1v1h-1zM1102 227h2v1h-2zM1100 228h2v1h-2zM1099 229h1v1h-1zM1097 230h2v1h-2zM1096 231h1v1h-1zM1094 232h2v1h-2zM490 233h6v1h-6zM1092 233h2v1h-2zM488 234h2v1h-2zM496 234h5v1h-5zM1091 234h1v1h-1zM485 235h3v1h-3zM501 235h3v1h-3zM1089 235h2v1h-2zM483 236h2v1h-2zM504 236h2v1h-2zM554 236h22v1h-22zM1088 236h1v1h-1zM481 237h2v1h-2zM506 237h3v1h-3zM550 237h4v1h-4zM576 237h8v1h-8zM1086 237h2v1h-2zM479 238h2v1h-2zM509 238h3v1h-3zM544 238h6v1h-6zM584 238h5v1h-5zM1084 238h2v1h-2zM477 239h2v1h-2zM512 239h2v1h-2zM528 239h16v1h-16zM589 239h2v1h-2zM1082 239h2v1h-2zM474 240h3v1h-3zM514 240h14v1h-14zM591 240h2v1h-2zM1080 240h2v1h-2zM470 241h4v1h-4zM593 241h2v1h-2zM1077 241h3v1h-3zM467 242h3v1h-3zM595 242h2v1h-2zM1048 242h6v1h-6zM1074 242h3v1h-3zM465 243h2v1h-2zM597 243h2v1h-2zM1043 243h5v1h-5zM1054 243h4v1h-4zM1070 243h4v1h-4zM463 244h2v1h-2zM599 244h2v1h-2zM616 244h5v1h-5zM1041 244h2v1h-2zM1058 244h12v1h-12zM461 245h2v1h-2zM601 245h2v1h-2zM608 245h8v1h-8zM621 245h3v1h-3zM1040 245h1v1h-1zM410 246h3v1h-3zM458 246h3v1h-3zM603 246h5v1h-5zM624 246h2v1h-2zM1038 246h2v1h-2zM406 247h4v1h-4zM413 247h3v1h-3zM454 247h4v1h-4zM626 247h2v1h-2zM1036 247h2v1h-2zM403 248h3v1h-3zM416 248h2v1h-2zM448 248h6v1h-6zM628 248h2v1h-2zM1034 248h2v1h-2zM401 249h2v1h-2zM418 249h4v1h-4zM440 249h8v1h-8zM630 249h2v1h-2zM1032 249h2v1h-2zM400 250h1v1h-1zM422 250h4v1h-4zM432 250h8v1h-8zM632 250h1v1h-1zM1029 250h3v1h-3zM398 251h2v1h-2zM426 251h6v1h-6zM633 251h2v1h-2zM1027 251h2v1h-2zM396 252h2v1h-2zM635 252h2v1h-2zM1026 252h1v1h-1zM395 253h1v1h-1zM637 253h2v1h-2zM1025 253h1v1h-1zM393 254h2v1h-2zM639 254h2v1h-2zM1024 254h1v1h-1zM392 255h1v1h-1zM641 255h2v1h-2zM1023 255h1v1h-1zM390 256h2v1h-2zM643 256h2v1h-2zM1022 256h1v1h-1zM388 257h2v1h-2zM645 257h2v1h-2zM1021 257h1v1h-1zM384 258h4v1h-4zM647 258h2v1h-2zM1020 258h1v1h-1zM376 259h8v1h-8zM649 259h2v1h-2zM1019 259h1v1h-1zM370 260h6v1h-6zM651 260h1v1h-1zM1018 260h1v1h-1zM368 261h2v1h-2zM652 261h2v1h-2zM1017 261h1v1h-1zM365 262h3v1h-3zM654 262h1v1h-1zM1016 262h1v1h-1zM362 263h3v1h-3zM655 263h1v1h-1zM1014 263h2v1h-2zM358 264h4v1h-4zM656 264h2v1h-2zM859 264h19v1h-19zM1013 264h1v1h-1zM354 265h4v1h-4zM658 265h1v1h-1zM857 265h2v1h-2zM878 265h4v1h-4zM1012 265h1v1h-1zM350 266h4v1h-4zM659 266h1v1h-1zM855 266h2v1h-2zM882 266h4v1h-4zM1011 266h1v1h-1zM347 267h3v1h-3zM660 267h1v1h-1zM853 267h2v1h-2zM886 267h4v1h-4zM1010 267h1v1h-1zM345 268h2v1h-2zM661 268h1v1h-1zM850 268h3v1h-3zM890 268h3v1h-3zM1008 268h2v1h-2zM343 269h2v1h-2zM662 269h1v1h-1zM846 269h4v1h-4zM893 269h2v1h-2zM1007 269h1v1h-1zM341 270h2v1h-2zM663 270h1v1h-1zM840 270h6v1h-6zM895 270h2v1h-2zM1006 270h1v1h-1zM339 271h2v1h-2zM664 271h1v1h-1zM834 271h6v1h-6zM897 271h2v1h-2zM1004 271h2v1h-2zM337 272h2v1h-2zM665 272h1v1h-1zM832 272h2v1h-2zM899 272h5v1h-5zM1003 272h1v1h-1zM335 273h2v1h-2zM666 273h1v1h-1zM829 273h3v1h-3zM904 273h5v1h-5zM1002 273h1v1h-1zM333 274h2v1h-2zM667 274h1v1h-1zM827 274h2v1h-2zM909 274h3v1h-3zM1000 274h2v1h-2zM331 275h2v1h-2zM668 275h2v1h-2zM825 275h2v1h-2zM912 275h2v1h-2zM999 275h1v1h-1zM329 276h2v1h-2zM670 276h1v1h-1zM823 276h2v1h-2zM914 276h12v1h-12zM954 276h12v1h-12zM998 276h1v1h-1zM328 277h1v1h-1zM671 277h1v1h-1zM821 277h2v1h-2zM926 277h4v1h-4zM950 277h4v1h-4zM966 277h4v1h-4zM996 277h2v1h-2zM326 278h2v1h-2zM672 278h2v1h-2zM786 278h6v1h-6zM818 278h3v1h-3zM930 278h20v1h-20zM970 278h4v1h-4zM994 278h2v1h-2zM324 279h2v1h-2zM674 279h1v1h-1zM784 279h2v1h-2zM792 279h16v1h-16zM814 279h4v1h-4zM974 279h4v1h-4zM990 279h4v1h-4zM323 280h1v1h-1zM675 280h2v1h-2zM781 280h3v1h-3zM808 280h6v1h-6zM978 280h12v1h-12zM321 281h2v1h-2zM677 281h3v1h-3zM779 281h2v1h-2zM320 282h1v1h-1zM680 282h2v1h-2zM777 282h2v1h-2zM318 283h2v1h-2zM682 283h2v1h-2zM775 283h2v1h-2zM316 284h2v1h-2zM684 284h2v1h-2zM773 284h2v1h-2zM315 285h1v1h-1zM686 285h2v1h-2zM771 285h2v1h-2zM314 286h1v1h-1zM688 286h1v1h-1zM770 286h1v1h-1zM314 287h1v1h-1zM689 287h2v1h-2zM768 287h2v1h-2zM313 288h1v1h-1zM691 288h2v1h-2zM767 288h1v1h-1zM312 289h1v1h-1zM693 289h3v1h-3zM766 289h1v1h-1zM312 290h1v1h-1zM696 290h2v1h-2zM764 290h2v1h-2zM311 291h1v1h-1zM698 291h3v1h-3zM763 291h1v1h-1zM310 292h1v1h-1zM701 292h2v1h-2zM761 292h2v1h-2zM310 293h1v1h-1zM703 293h2v1h-2zM760 293h1v1h-1zM309 294h1v1h-1zM705 294h2v1h-2zM758 294h2v1h-2zM308 295h1v1h-1zM707 295h2v1h-2zM756 295h2v1h-2zM308 296h1v1h-1zM709 296h3v1h-3zM755 296h1v1h-1zM307 297h1v1h-1zM712 297h2v1h-2zM753 297h2v1h-2zM306 298h1v1h-1zM714 298h3v1h-3zM752 298h1v1h-1zM306 299h1v1h-1zM717 299h3v1h-3zM750 299h2v1h-2zM305 300h1v1h-1zM720 300h2v1h-2zM748 300h2v1h-2zM305 301h1v1h-1zM722 301h4v1h-4zM744 301h4v1h-4zM304 302h1v1h-1zM726 302h4v1h-4zM736 302h8v1h-8zM304 303h1v1h-1zM730 303h6v1h-6zM303 304h1v1h-1zM302 305h1v1h-1zM302 306h1v1h-1zM301 307h1v1h-1zM301 308h1v1h-1zM300 309h1v1h-1zM300 310h1v1h-1zM299 311h1v1h-1zM298 312h1v1h-1zM297 313h1v1h-1zM297 314h1v1h-1zM296 315h1v1h-1zM295 316h1v1h-1zM294 317h1v1h-1zM293 318h1v1h-1zM293 319h1v1h-1zM292 320h1v1h-1zM291 321h1v1h-1zM290 322h1v1h-1zM289 323h1v1h-1zM289 324h1v1h-1zM288 325h1v1h-1zM287 326h1v1h-1zM286 327h1v1h-1zM285 328h1v1h-1zM285 329h1v1h-1zM284 330h1v1h-1zM283 331h1v1h-1zM282 332h1v1h-1zM282 333h1v1h-1zM281 334h1v1h-1zM280 335h1v1h-1zM279 336h1v1h-1zM279 337h1v1h-1zM278 338h1v1h-1zM277 339h1v1h-1zM276 340h1v1h-1zM276 341h1v1h-1zM275 342h1v1h-1zM274 343h1v1h-1zM274 344h1v1h-1zM273 345h1v1h-1zM273 346h1v1h-1zM272 347h1v1h-1zM272 348h1v1h-1zM271 349h1v1h-1zM270 350h1v1h-1zM270 351h1v1h-1zM269 352h1v1h-1zM269 353h1v1h-1zM268 354h1v1h-1zM268 355h1v1h-1zM267 356h1v1h-1zM266 357h1v1h-1zM266 358h1v1h-1zM265 359h1v1h-1zM264 360h1v1h-1zM264 361h1v1h-1zM263 362h1v1h-1zM262 363h1v1h-1zM262 364h1v1h-1zM261 365h1v1h-1zM260 366h1v1h-1zM260 367h1v1h-1zM259 368h1v1h-1zM258 369h1v1h-1zM258 370h1v1h-1zM257 371h1v1h-1zM257 372h1v1h-1zM256 373h1v1h-1zM255 374h1v1h-1zM255 375h1v1h-1zM254 376h1v1h-1zM253 377h1v1h-1zM253 378h1v1h-1zM252 379h1v1h-1zM252 380h1v1h-1zM251 381h1v1h-1zM250 382h1v1h-1zM250 383h1v1h-1zM249 384h1v1h-1zM249 385h1v1h-1zM248 386h1v1h-1zM247 387h1v1h-1zM247 388h1v1h-1zM246 389h1v1h-1zM245 390h1v1h-1zM245 391h1v1h-1zM244 392h1v1h-1zM244 393h1v1h-1zM243 394h1v1h-1zM242 395h1v1h-1zM242 396h1v1h-1zM241 397h1v1h-1zM241 398h1v1h-1zM240 399h1v1h-1zM240 400h1v1h-1zM239 401h1v1h-1zM238 402h1v1h-1zM238 403h1v1h-1zM237 404h1v1h-1zM237 405h1v1h-1zM236 406h1v1h-1zM236 407h1v1h-1zM235 408h1v1h-1zM234 409h1v1h-1zM234 410h1v1h-1zM233 411h1v1h-1zM232 412h1v1h-1zM231 413h1v1h-1zM231 414h1v1h-1zM230 415h1v1h-1zM229 416h1v1h-1zM228 417h1v1h-1zM228 418h1v1h-1zM227 419h1v1h-1zM226 420h1v1h-1zM225 421h1v1h-1zM224 422h1v1h-1zM223 423h1v1h-1zM223 424h1v1h-1zM222 425h1v1h-1zM221 426h1v1h-1zM220 427h1v1h-1zM219 428h1v1h-1zM218 429h1v1h-1zM218 430h1v1h-1zM217 431h1v1h-1zM216 432h1v1h-1zM215 433h1v1h-1zM215 434h1v1h-1zM214 435h1v1h-1zM213 436h1v1h-1zM212 437h1v1h-1zM212 438h1v1h-1zM211 439h1v1h-1zM210 440h1v1h-1zM209 441h1v1h-1zM208 442h1v1h-1zM207 443h1v1h-1zM207 444h1v1h-1zM206 445h1v1h-1zM205 446h1v1h-1zM204 447h1v1h-1zM203 448h1v1h-1zM202 449h1v1h-1zM201 450h1v1h-1zM200 451h1v1h-1zM199 452h1v1h-1zM198 453h1v1h-1zM197 454h1v1h-1zM196 455h1v1h-1zM195 456h1v1h-1zM194 457h1v1h-1zM192 458h2v1h-2zM191 459h1v1h-1zM190 460h1v1h-1zM188 461h2v1h-2zM187 462h1v1h-1zM186 463h1v1h-1zM184 464h2v1h-2zM183 465h1v1h-1zM182 466h1v1h-1zM180 467h2v1h-2zM179 468h1v1h-1zM178 469h1v1h-1zM176 470h2v1h-2zM175 471h1v1h-1zM174 472h1v1h-1zM172 473h2v1h-2zM171 474h1v1h-1zM170 475h1v1h-1zM168 476h2v1h-2zM167 477h1v1h-1zM166 478h1v1h-1zM164 479h2v1h-2zM163 480h1v1h-1zM162 481h1v1h-1zM160 482h2v1h-2zM159 483h1v1h-1zM158 484h1v1h-1zM156 485h2v1h-2zM155 486h1v1h-1zM153 487h2v1h-2zM152 488h1v1h-1zM150 489h2v1h-2zM148 490h2v1h-2zM147 491h1v1h-1zM145 492h2v1h-2zM144 493h1v1h-1zM142 494h2v1h-2zM8 495h13v1h-13zM140 495h2v1h-2zM3 496h5v1h-5zM21 496h2v1h-2zM138 496h2v1h-2zM23 497h2v1h-2zM134 497h4v1h-4zM25 498h2v1h-2zM130 498h4v1h-4zM27 499h1v1h-1zM114 499h6v1h-6zM126 499h4v1h-4zM28 500h2v1h-2zM110 500h4v1h-4zM120 500h6v1h-6zM30 501h1v1h-1zM107 501h3v1h-3zM31 502h1v1h-1zM105 502h2v1h-2zM32 503h2v1h-2zM103 503h2v1h-2zM34 504h1v1h-1zM101 504h2v1h-2zM35 505h2v1h-2zM98 505h3v1h-3zM37 506h3v1h-3zM96 506h2v1h-2zM40 507h2v1h-2zM93 507h3v1h-3zM42 508h6v1h-6zM88 508h5v1h-5zM48 509h24v1h-24zM80 509h8v1h-8zM72 510h8v1h-8z" fill="#ff0000"/>
<path d="M1243 158h1v1h-1zM1242 159h1v1h-1zM1240 160h2v1h-2zM1239 161h1v1h-1zM1238 162h1v1h-1zM1236 163h2v1h-2zM1235 164h1v1h-1zM1234 165h1v1h-1zM1232 166h2v1h-2zM1231 167h1v1h-1zM1230 168h1v1h-1zM1228 169h2v1h-2zM1227 170h1v1h-1zM1226 171h1v1h-1zM1225 172h1v1h-1zM1224 173h1v1h-1zM1222 174h2v1h-2zM1221 175h1v1h-1zM1220 176h1v1h-1zM1219 177h1v1h-1zM1218 178h1v1h-1zM1216 179h2v1h-2zM1215 180h1v1h-1zM1214 181h1v1h-1zM1212 182h2v1h-2zM1211 183h1v1h-1zM1209 184h2v1h-2zM1208 185h1v1h-1zM1206 186h2v1h-2zM1204 187h2v1h-2zM1203 188h1v1h-1zM1201 189h2v1h-2zM1199 190h2v1h-2zM1197 191h2v1h-2zM1195 192h2v1h-2zM1193 193h2v1h-2zM1191 194h2v1h-2zM1189 195h2v1h-2zM1186 196h3v1h-3zM1184 197h2v1h-2zM1181 198h3v1h-3zM1179 199h2v1h-2zM1177 200h2v1h-2zM1176 201h1v1h-1zM1174 202h2v1h-2zM1172 203h2v1h-2zM1171 204h1v1h-1zM1169 205h2v1h-2zM1168 206h1v1h-1zM1166 207h2v1h-2zM1164 208h2v1h-2zM1163 209h1v1h-1zM1162 210h1v1h-1zM1160 211h2v1h-2zM1159 212h1v1h-1zM1158 213h1v1h-1zM1156 214h2v1h-2zM1155 215h1v1h-1zM1154 216h1v1h-1zM1153 217h1v1h-1zM1152 218h1v1h-1zM1150 219h2v1h-2zM1149 220h1v1h-1zM1148 221h1v1h-1zM1147 222h1v1h-1zM1146 223h1v1h-1zM1145 224h1v1h-1zM1144 225h1v1h-1zM1143 226h1v1h-1zM1142 227h1v1h-1zM1141 228h1v1h-1zM1140 229h1v1h-1zM1139 230h1v1h-1zM1138 231h1v1h-1zM1137 232h1v1h-1zM1136 233h1v1h-1zM1134 234h2v1h-2zM1133 235h1v1h-1zM1132 236h1v1h-1zM1131 237h1v1h-1zM1130 238h1v1h-1zM608 239h14v1h-14zM1129 239h1v1h-1zM584 240h24v1h-24zM622 240h4v1h-4zM1128 240h1v1h-1zM578 241h6v1h-6zM626 241h3v1h-3zM1126 241h2v1h-2zM574 242h4v1h-4zM629 242h3v1h-3zM1125 242h1v1h-1zM568 243h6v1h-6zM632 243h2v1h-2zM1124 243h1v1h-1zM528 244h16v1h-16zM560 244h8v1h-8zM634 244h3v1h-3zM1123 244h1v1h-1zM520 245h8v1h-8zM544 245h16v1h-16zM637 245h2v1h-2zM1121 245h2v1h-2zM504 246h16v1h-16zM639 246h2v1h-2zM1120 246h1v1h-1zM496 247h8v1h-8zM641 247h2v1h-2zM1118 247h2v1h-2zM490 248h6v1h-6zM643 248h2v1h-2zM1116 248h2v1h-2zM488 249h2v1h-2zM645 249h3v1h-3zM1114 249h2v1h-2zM485 250h3v1h-3zM648 250h2v1h-2zM1112 250h2v1h-2zM482 251h3v1h-3zM650 251h4v1h-4zM1109 251h3v1h-3zM480 252h2v1h-2zM654 252h4v1h-4zM1106 252h3v1h-3zM477 253h3v1h-3zM658 253h4v1h-4zM1102 253h4v1h-4zM474 254h3v1h-3zM662 254h4v1h-4zM1098 254h4v1h-4zM472 255h2v1h-2zM666 255h3v1h-3zM1094 255h4v1h-4zM469 256h3v1h-3zM669 256h3v1h-3zM1088 256h6v1h-6zM467 257h2v1h-2zM672 257h2v1h-2zM1080 257h8v1h-8zM465 258h2v1h-2zM674 258h6v1h-6zM1072 258h8v1h-8zM463 259h2v1h-2zM680 259h8v1h-8zM1064 259h8v1h-8zM461 260h2v1h-2zM688 260h8v1h-8zM1050 260h14v1h-14zM458 261h3v1h-3zM696 261h5v1h-5zM1046 261h4v1h-4zM456 262h2v1h-2zM701 262h3v1h-3zM1042 262h4v1h-4zM453 263h3v1h-3zM704 263h2v1h-2zM1038 263h4v1h-4zM451 264h2v1h-2zM706 264h3v1h-3zM1034 264h4v1h-4zM449 265h2v1h-2zM709 265h3v1h-3zM1030 265h4v1h-4zM447 266h2v1h-2zM712 266h2v1h-2zM1026 266h4v1h-4zM445 267h2v1h-2zM714 267h4v1h-4zM1022 267h4v1h-4zM443 268h2v1h-2zM718 268h4v1h-4zM1018 268h4v1h-4zM441 269h2v1h-2zM722 269h3v1h-3zM1014 269h4v1h-4zM439 270h2v1h-2zM725 270h3v1h-3zM1000 270h14v1h-14zM437 271h2v1h-2zM728 271h2v1h-2zM968 271h8v1h-8zM984 271h16v1h-16zM435 272h2v1h-2zM730 272h6v1h-6zM960 272h8v1h-8zM976 272h8v1h-8zM434 273h1v1h-1zM736 273h8v1h-8zM954 273h6v1h-6zM432 274h2v1h-2zM744 274h24v1h-24zM950 274h4v1h-4zM431 275h1v1h-1zM768 275h16v1h-16zM946 275h4v1h-4zM430 276h1v1h-1zM784 276h5v1h-5zM944 276h2v1h-2zM428 277h2v1h-2zM789 277h3v1h-3zM941 277h3v1h-3zM427 278h1v1h-1zM792 278h2v1h-2zM904 278h8v1h-8zM936 278h5v1h-5zM425 279h2v1h-2zM794 279h6v1h-6zM880 279h24v1h-24zM912 279h24v1h-24zM424 280h1v1h-1zM800 280h6v1h-6zM874 280h6v1h-6zM422 281h2v1h-2zM806 281h4v1h-4zM870 281h4v1h-4zM420 282h2v1h-2zM810 282h6v1h-6zM864 282h6v1h-6zM419 283h1v1h-1zM816 283h8v1h-8zM832 283h32v1h-32zM417 284h2v1h-2zM824 284h8v1h-8zM416 285h1v1h-1zM414 286h2v1h-2zM412 287h2v1h-2zM411 288h1v1h-1zM410 289h1v1h-1zM408 290h2v1h-2zM407 291h1v1h-1zM406 292h1v1h-1zM404 293h2v1h-2zM403 294h1v1h-1zM402 295h1v1h-1zM401 296h1v1h-1zM400 297h1v1h-1zM398 298h2v1h-2zM397 299h1v1h-1zM396 300h1v1h-1zM395 301h1v1h-1zM394 302h1v1h-1zM393 303h1v1h-1zM392 304h1v1h-1zM391 305h1v1h-1zM390 306h1v1h-1zM389 307h1v1h-1zM388 308h1v1h-1zM387 309h1v1h-1zM386 310h1v1h-1zM385 311h1v1h-1zM384 312h1v1h-1zM382 313h2v1h-2zM381 314h1v1h-1zM380 315h1v1h-1zM379 316h1v1h-1zM378 317h1v1h-1zM377 318h1v1h-1zM376 319h1v1h-1zM375 320h1v1h-1zM374 321h1v1h-1zM373 322h1v1h-1zM372 323h1v1h-1zM371 324h1v1h-1zM370 325h1v1h-1zM369 326h1v1h-1zM368 327h1v1h-1zM367 328h1v1h-1zM366 329h1v1h-1zM365 330h1v1h-1zM364 331h1v1h-1zM363 332h1v1h-1zM362 333h1v1h-1zM361 334h1v1h-1zM360 335h1v1h-1zM359 336h1v1h-1zM358 337h1v1h-1zM357 338h1v1h-1zM356 339h1v1h-1zM355 340h1v1h-1zM354 341h1v1h-1zM353 342h1v1h-1zM352 343h1v1h-1zM350 344h2v1h-2zM349 345h1v1h-1zM348 346h1v1h-1zM347 347h1v1h-1zM346 348h1v1h-1zM345 349h1v1h-1zM344 350h1v1h-1zM342 351h2v1h-2zM341 352h1v1h-1zM340 353h1v1h-1zM339 354h1v1h-1zM338 355h1v1h-1zM336 356h2v1h-2zM335 357h1v1h-1zM334 358h1v1h-1zM332 359h2v1h-2zM331 360h1v1h-1zM330 361h1v1h-1zM329 362h1v1h-1zM328 363h1v1h-1zM327 364h1v1h-1zM326 365h1v1h-1zM325 366h1v1h-1zM324 367h1v1h-1zM323 368h1v1h-1zM322 369h1v1h-1zM321 370h1v1h-1zM320 371h1v1h-1zM319 372h1v1h-1zM318 373h1v1h-1zM317 374h1v1h-1zM316 375h1v1h-1zM315 376h1v1h-1zM314 377h1v1h-1zM313 378h1v1h-1zM312 379h1v1h-1zM311 380h1v1h-1zM311 381h1v1h-1zM310 382h1v1h-1zM309 383h1v1h-1zM308 384h1v1h-1zM307 385h1v1h-1zM306 386h1v1h-1zM305 387h1v1h-1zM304 388h1v1h-1zM303 389h1v1h-1zM303 390h1v1h-1zM302 391h1v1h-1zM301 392h1v1h-1zM300 393h1v1h-1zM299 394h1v1h-1zM298 395h1v1h-1zM297 396h1v1h-1zM296 397h1v1h-1zM295 398h1v1h-1zM294 399h1v1h-1zM293 400h1v1h-1zM292 401h1v1h-1zM291 402h1v1h-1zM290 403h1v1h-1zM289 404h1v1h-1zM288 405h1v1h-1zM287 406h1v1h-1zM286 407h1v1h-1zM285 408h1v1h-1zM284 409h1v1h-1zM283 410h1v1h-1zM282 411h1v1h-1zM281 412h1v1h-1zM280 413h1v1h-1zM279 414h1v1h-1zM278 415h1v1h-1zM277 416h1v1h-1zM276 417h1v1h-1zM275 418h1v1h-1zM274 419h1v1h-1zM273 420h1v1h-1zM272 421h1v1h-1zM271 422h1v1h-1zM271 423h1v1h-1zM270 424h1v1h-1zM269 425h1v1h-1zM268 426h1v1h-1zM267 427h1v1h-1zM266 428h1v1h-1zM265 429h1v1h-1zM264 430h1v1h-1zM263 431h1v1h-1zM262 432h1v1h-1zM261 433h1v1h-1zM260 434h1v1h-1zM259 435h1v1h-1zM258 436h1v1h-1zM257 437h1v1h-1zM256 438h1v1h-1zM255 439h1v1h-1zM254 440h1v1h-1zM253 441h1v1h-1zM252 442h1v1h-1zM251 443h1v1h-1zM250 444h1v1h-1zM248 445h2v1h-2zM247 446h1v1h-1zM246 447h1v1h-1zM244 448h2v1h-2zM243 449h1v1h-1zM242 450h1v1h-1zM241 451h1v1h-1zM240 452h1v1h-1zM238 453h2v1h-2zM237 454h1v1h-1zM236 455h1v1h-1zM235 456h1v1h-1zM234 457h1v1h-1zM232 458h2v1h-2zM231 459h1v1h-1zM230 460h1v1h-1zM228 461h2v1h-2zM227 462h1v1h-1zM226 463h1v1h-1zM225 464h1v1h-1zM224 465h1v1h-1zM222 466h2v1h-2zM221 467h1v1h-1zM220 468h1v1h-1zM219 469h1v1h-1zM218 470h1v1h-1zM217 471h1v1h-1zM216 472h1v1h-1zM214 473h2v1h-2zM213 474h1v1h-1zM212 475h1v1h-1zM211 476h1v1h-1zM209 477h2v1h-2zM208 478h1v1h-1zM206 479h2v1h-2zM204 480h2v1h-2zM202 481h2v1h-2zM200 482h2v1h-2zM197 483h3v1h-3zM194 484h3v1h-3zM192 485h2v1h-2zM189 486h3v1h-3zM186 487h3v1h-3zM184 488h2v1h-2zM181 489h3v1h-3zM178 490h3v1h-3zM174 491h4v1h-4zM168 492h6v1h-6zM160 493h8v1h-8zM152 494h8v1h-8zM144 495h8v1h-8zM136 496h8v1h-8zM112 497h24v1h-24zM104 498h8v1h-8zM98 499h6v1h-6zM96 500h2v1h-2zM93 501h3v1h-3zM90 502h3v1h-3zM86 503h4v1h-4zM82 504h4v1h-4zM78 505h4v1h-4zM74 506h4v1h-4zM70 507h4v1h-4zM67 508h3v1h-3zM65 509h2v1h-2zM64 510h1v1h-1zM62 511h2v1h-2zM60 512h2v1h-2zM59 513h1v1h-1zM57 514h2v1h-2zM55 515h2v1h-2zM53 516h2v1h-2zM51 517h2v1h-2zM49 518h2v1h-2zM48 519h1v1h-1zM46 520h2v1h-2zM44 521h2v1h-2zM43 522h1v1h-1zM41 523h2v1h-2zM39 524h2v1h-2zM37 525h2v1h-2zM35 526h2v1h-2zM33 527h2v1h-2zM32 528h1v1h-1zM30 529h2v1h-2zM28 530h2v1h-2zM27 531h1v1h-1zM25 532h2v1h-2zM23 533h2v1h-2zM21 534h2v1h-2zM19 535h2v1h-2zM17 536h2v1h-2zM15 537h2v1h-2zM13 538h2v1h-2zM11 539h2v1h-2zM10 540h1v1h-1zM8 541h2v1h-2zM7 542h1v1h-1zM6 543h1v1h-1zM4 544h2v1h-2zM3 545h1v1h-1z" fill="#0000cd"/>
<rect x="3" y="36" width="1576" height="2" fill="#ff0000"/>
<rect x="3" y="81" width="1576" height="2" fill="#ff0000"/>
<rect x="3" y="126" width="1576" height="2" fill="#00ff00"/>
<rect x="3" y="170" width="1576" height="2" fill="#0000ff"/>
<rect x="3" y="214" width="1576" height="2" fill="#0000ff"/>
<line x1="4" x2="1579" y1="584.5" y2="584.5" stroke="#c0c0c0" stroke-width="1" stroke-dasharray="3 3"/>
<line x1="4" x2="1579" y1="621.5" y2="621.5" stroke="#c0c0c0" stroke-width="1" stroke-dasharray="3 3"/>
<path d="M243 568h2v1h-2zM272 568h4v1h-4zM241 569h2v1h-2zM245 569h3v1h-3zM264 569h8v1h-8zM276 569h2v1h-2zM239 570h2v1h-2zM248 570h2v1h-2zM256 570h8v1h-8zM278 570h1v1h-1zM237 571h2v1h-2zM250 571h6v1h-6zM279 571h1v1h-1zM218 572h19v1h-19zM280 572h2v1h-2zM214 573h4v1h-4zM282 573h1v1h-1zM211 574h3v1h-3zM283 574h1v1h-1zM307 574h1v1h-1zM209 575h2v1h-2zM284 575h1v1h-1zM306 575h1v1h-1zM308 575h2v1h-2zM207 576h2v1h-2zM285 576h1v1h-1zM304 576h2v1h-2zM310 576h1v1h-1zM1131 576h2v1h-2zM205 577h2v1h-2zM286 577h2v1h-2zM303 577h1v1h-1zM311 577h1v1h-1zM1129 577h2v1h-2zM1133 577h3v1h-3zM203 578h2v1h-2zM288 578h1v1h-1zM302 578h1v1h-1zM312 578h2v1h-2zM1127 578h2v1h-2zM1136 578h2v1h-2zM1227 578h3v1h-3zM201 579h2v1h-2zM289 579h1v1h-1zM300 579h2v1h-2zM314 579h1v1h-1zM1125 579h2v1h-2zM1138 579h6v1h-6zM1225 579h2v1h-2zM1230 579h4v1h-4zM199 580h2v1h-2zM290 580h1v1h-1zM296 580h4v1h-4zM315 580h1v1h-1zM395 580h1v1h-1zM1122 580h3v1h-3zM1144 580h13v1h-13zM1223 580h2v1h-2zM1234 580h10v1h-10zM197 581h2v1h-2zM291 581h5v1h-5zM316 581h1v1h-1zM393 581h2v1h-2zM396 581h2v1h-2zM1120 581h2v1h-2zM1157 581h3v1h-3zM1221 581h2v1h-2zM192 582h5v1h-5zM317 582h1v1h-1zM391 582h2v1h-2zM398 582h2v1h-2zM1117 582h3v1h-3zM1160 582h2v1h-2zM1218 582h3v1h-3zM176 583h16v1h-16zM318 583h1v1h-1zM389 583h2v1h-2zM400 583h1v1h-1zM1115 583h2v1h-2zM1162 583h2v1h-2zM1216 583h2v1h-2zM168 584h8v1h-8zM319 584h1v1h-1zM386 584h3v1h-3zM401 584h2v1h-2zM1113 584h2v1h-2zM1164 584h2v1h-2zM1179 584h1v1h-1zM1213 584h3v1h-3zM160 585h8v1h-8zM319 585h1v1h-1zM382 585h4v1h-4zM403 585h1v1h-1zM483 585h5v1h-5zM1112 585h1v1h-1zM1166 585h2v1h-2zM1177 585h2v1h-2zM1180 585h2v1h-2zM1210 585h3v1h-3zM154 586h6v1h-6zM320 586h1v1h-1zM368 586h14v1h-14zM404 586h2v1h-2zM481 586h2v1h-2zM488 586h4v1h-4zM1110 586h2v1h-2zM1168 586h1v1h-1zM1175 586h2v1h-2zM1182 586h2v1h-2zM1206 586h4v1h-4zM152 587h2v1h-2zM321 587h1v1h-1zM362 587h6v1h-6zM406 587h2v1h-2zM480 587h1v1h-1zM492 587h1v1h-1zM1108 587h2v1h-2zM1169 587h2v1h-2zM1173 587h2v1h-2zM1184 587h1v1h-1zM1200 587h6v1h-6zM149 588h3v1h-3zM322 588h1v1h-1zM358 588h4v1h-4zM408 588h1v1h-1zM478 588h2v1h-2zM492 588h1v1h-1zM1098 588h10v1h-10zM1171 588h2v1h-2zM1185 588h2v1h-2zM1192 588h8v1h-8zM11 589h1v1h-1zM147 589h2v1h-2zM323 589h10v1h-10zM354 589h4v1h-4zM409 589h2v1h-2zM467 589h5v1h-5zM476 589h2v1h-2zM493 589h1v1h-1zM1094 589h4v1h-4zM1187 589h5v1h-5zM9 590h2v1h-2zM12 590h2v1h-2zM114 590h2v1h-2zM146 590h1v1h-1zM333 590h3v1h-3zM350 590h4v1h-4zM411 590h1v1h-1zM466 590h1v1h-1zM472 590h4v1h-4zM493 590h1v1h-1zM1090 590h4v1h-4zM8 591h1v1h-1zM14 591h1v1h-1zM112 591h2v1h-2zM116 591h2v1h-2zM145 591h1v1h-1zM336 591h2v1h-2zM344 591h6v1h-6zM412 591h1v1h-1zM464 591h2v1h-2zM494 591h1v1h-1zM835 591h1v1h-1zM1088 591h2v1h-2zM6 592h2v1h-2zM15 592h1v1h-1zM99 592h5v1h-5zM109 592h3v1h-3zM118 592h2v1h-2zM144 592h1v1h-1zM338 592h6v1h-6zM413 592h1v1h-1zM463 592h1v1h-1zM494 592h1v1h-1zM833 592h2v1h-2zM836 592h2v1h-2zM947 592h9v1h-9zM1085 592h3v1h-3zM4 593h2v1h-2zM16 593h2v1h-2zM98 593h1v1h-1zM104 593h5v1h-5zM120 593h1v1h-1zM130 593h3v1h-3zM142 593h2v1h-2zM413 593h1v1h-1zM462 593h1v1h-1zM495 593h1v1h-1zM831 593h2v1h-2zM838 593h1v1h-1zM945 593h2v1h-2zM956 593h2v1h-2zM1074 593h11v1h-11zM3 594h1v1h-1zM18 594h1v1h-1zM96 594h2v1h-2zM121 594h2v1h-2zM126 594h4v1h-4zM133 594h3v1h-3zM141 594h1v1h-1zM414 594h1v1h-1zM460 594h2v1h-2zM496 594h1v1h-1zM829 594h2v1h-2zM839 594h1v1h-1zM856 594h4v1h-4zM943 594h2v1h-2zM958 594h2v1h-2zM1018 594h11v1h-11zM1072 594h2v1h-2zM19 595h1v1h-1zM95 595h1v1h-1zM123 595h3v1h-3zM136 595h2v1h-2zM140 595h1v1h-1zM415 595h1v1h-1zM458 595h2v1h-2zM496 595h1v1h-1zM755 595h10v1h-10zM826 595h3v1h-3zM840 595h2v1h-2zM850 595h6v1h-6zM860 595h2v1h-2zM941 595h2v1h-2zM960 595h1v1h-1zM1016 595h2v1h-2zM1029 595h2v1h-2zM1069 595h3v1h-3zM20 596h2v1h-2zM66 596h3v1h-3zM94 596h1v1h-1zM138 596h2v1h-2zM416 596h1v1h-1zM440 596h8v1h-8zM454 596h4v1h-4zM497 596h1v1h-1zM555 596h1v1h-1zM754 596h1v1h-1zM765 596h3v1h-3zM824 596h2v1h-2zM842 596h1v1h-1zM846 596h4v1h-4zM862 596h2v1h-2zM939 596h2v1h-2zM961 596h2v1h-2zM1013 596h3v1h-3zM1031 596h2v1h-2zM1042 596h10v1h-10zM1067 596h2v1h-2zM22 597h2v1h-2zM62 597h4v1h-4zM69 597h3v1h-3zM92 597h2v1h-2zM417 597h1v1h-1zM432 597h8v1h-8zM448 597h6v1h-6zM497 597h1v1h-1zM554 597h1v1h-1zM556 597h2v1h-2zM579 597h2v1h-2zM753 597h1v1h-1zM768 597h2v1h-2zM821 597h3v1h-3zM843 597h3v1h-3zM864 597h1v1h-1zM874 597h2v1h-2zM938 597h1v1h-1zM963 597h5v1h-5zM1000 597h13v1h-13zM1033 597h2v1h-2zM1038 597h4v1h-4zM1052 597h2v1h-2zM1066 597h1v1h-1zM24 598h1v1h-1zM56 598h6v1h-6zM72 598h2v1h-2zM80 598h12v1h-12zM417 598h1v1h-1zM426 598h6v1h-6zM498 598h1v1h-1zM522 598h3v1h-3zM553 598h1v1h-1zM558 598h2v1h-2zM577 598h2v1h-2zM581 598h3v1h-3zM752 598h1v1h-1zM770 598h2v1h-2zM819 598h2v1h-2zM865 598h2v1h-2zM870 598h4v1h-4zM876 598h1v1h-1zM937 598h1v1h-1zM968 598h4v1h-4zM992 598h8v1h-8zM1035 598h3v1h-3zM1054 598h1v1h-1zM1064 598h2v1h-2zM25 599h2v1h-2zM42 599h14v1h-14zM74 599h6v1h-6zM418 599h1v1h-1zM422 599h4v1h-4zM498 599h1v1h-1zM520 599h2v1h-2zM525 599h2v1h-2zM552 599h1v1h-1zM560 599h1v1h-1zM575 599h2v1h-2zM584 599h2v1h-2zM611 599h5v1h-5zM723 599h5v1h-5zM751 599h1v1h-1zM772 599h1v1h-1zM818 599h1v1h-1zM867 599h3v1h-3zM877 599h1v1h-1zM937 599h1v1h-1zM972 599h2v1h-2zM987 599h5v1h-5zM1055 599h1v1h-1zM1063 599h1v1h-1zM27 600h5v1h-5zM38 600h4v1h-4zM419 600h3v1h-3zM499 600h5v1h-5zM517 600h3v1h-3zM527 600h2v1h-2zM550 600h2v1h-2zM561 600h2v1h-2zM573 600h2v1h-2zM586 600h6v1h-6zM609 600h2v1h-2zM616 600h4v1h-4zM722 600h1v1h-1zM728 600h8v1h-8zM750 600h1v1h-1zM773 600h1v1h-1zM817 600h1v1h-1zM878 600h1v1h-1zM936 600h1v1h-1zM974 600h1v1h-1zM985 600h2v1h-2zM1056 600h2v1h-2zM1062 600h1v1h-1zM32 601h6v1h-6zM504 601h13v1h-13zM529 601h2v1h-2zM549 601h1v1h-1zM563 601h10v1h-10zM592 601h6v1h-6zM607 601h2v1h-2zM620 601h1v1h-1zM721 601h1v1h-1zM736 601h6v1h-6zM749 601h1v1h-1zM774 601h2v1h-2zM816 601h1v1h-1zM879 601h1v1h-1zM935 601h1v1h-1zM975 601h1v1h-1zM984 601h1v1h-1zM1058 601h1v1h-1zM1060 601h2v1h-2zM531 602h2v1h-2zM548 602h1v1h-1zM598 602h4v1h-4zM605 602h2v1h-2zM620 602h1v1h-1zM720 602h1v1h-1zM742 602h4v1h-4zM748 602h1v1h-1zM776 602h1v1h-1zM815 602h1v1h-1zM879 602h1v1h-1zM934 602h1v1h-1zM976 602h2v1h-2zM982 602h2v1h-2zM1059 602h1v1h-1zM533 603h3v1h-3zM546 603h2v1h-2zM602 603h3v1h-3zM621 603h1v1h-1zM698 603h2v1h-2zM718 603h2v1h-2zM746 603h2v1h-2zM777 603h1v1h-1zM786 603h2v1h-2zM815 603h1v1h-1zM880 603h1v1h-1zM933 603h1v1h-1zM978 603h1v1h-1zM980 603h2v1h-2zM536 604h2v1h-2zM542 604h4v1h-4zM622 604h1v1h-1zM696 604h2v1h-2zM700 604h2v1h-2zM717 604h1v1h-1zM778 604h1v1h-1zM782 604h4v1h-4zM788 604h2v1h-2zM814 604h1v1h-1zM881 604h1v1h-1zM923 604h3v1h-3zM933 604h1v1h-1zM979 604h1v1h-1zM538 605h4v1h-4zM623 605h1v1h-1zM693 605h3v1h-3zM702 605h2v1h-2zM716 605h1v1h-1zM779 605h3v1h-3zM790 605h1v1h-1zM813 605h1v1h-1zM882 605h1v1h-1zM922 605h1v1h-1zM926 605h4v1h-4zM932 605h1v1h-1zM623 606h1v1h-1zM688 606h5v1h-5zM704 606h1v1h-1zM714 606h2v1h-2zM791 606h1v1h-1zM812 606h1v1h-1zM883 606h1v1h-1zM922 606h1v1h-1zM930 606h2v1h-2zM624 607h1v1h-1zM683 607h5v1h-5zM705 607h2v1h-2zM710 607h4v1h-4zM792 607h2v1h-2zM802 607h10v1h-10zM884 607h1v1h-1zM921 607h1v1h-1zM625 608h1v1h-1zM682 608h1v1h-1zM707 608h3v1h-3zM794 608h1v1h-1zM798 608h4v1h-4zM885 608h1v1h-1zM920 608h1v1h-1zM626 609h1v1h-1zM681 609h1v1h-1zM795 609h3v1h-3zM886 609h2v1h-2zM919 609h1v1h-1zM626 610h1v1h-1zM680 610h1v1h-1zM888 610h1v1h-1zM919 610h1v1h-1zM627 611h2v1h-2zM678 611h2v1h-2zM889 611h1v1h-1zM918 611h1v1h-1zM629 612h3v1h-3zM677 612h1v1h-1zM890 612h1v1h-1zM917 612h1v1h-1zM632 613h2v1h-2zM676 613h1v1h-1zM891 613h5v1h-5zM916 613h1v1h-1zM634 614h4v1h-4zM675 614h1v1h-1zM896 614h16v1h-16zM916 614h1v1h-1zM638 615h4v1h-4zM673 615h2v1h-2zM912 615h4v1h-4zM642 616h6v1h-6zM672 616h1v1h-1zM648 617h5v1h-5zM670 617h2v1h-2zM653 618h3v1h-3zM668 618h2v1h-2zM656 619h2v1h-2zM664 619h4v1h-4zM658 620h6v1h-6z" fill="#1e90ff"/>
<rect x="3" y="698" width="1" height="25" fill="#c0c0c0"/>
<rect x="11" y="695" width="1" height="28" fill="#c0c0c0"/>
<rect x="19" y="696" width="1" height="27" fill="#c0c0c0"/>
<rect x="27" y="699" width="1" height="24" fill="#c0c0c0"/>
<rect x="35" y="702" width="1" height="21" fill="#c0c0c0"/>
<rect x="43" y="705" width="1" height="18" fill="#c0c0c0"/>
<rect x="51" y="705" width="1" height="18" fill="#c0c0c0"/>
<rect x="59" y="707" width="1" height="16" fill="#c0c0c0"/>
<rect x="67" y="708" width="1" height="15" fill="#c0c0c0"/>
<rect x="75" y="709" width="1" height="14" fill="#c0c0c0"/>
<rect x="83" y="710" width="1" height="13" fill="#c0c0c0"/>
<rect x="91" y="710" width="1" height="13" fill="#c0c0c0"/>
<rect x="99" y="708" width="1" height="15" fill="#c0c0c0"/>
<rect x="107" y="708" width="1" height="15" fill="#c0c0c0"/>
<rect x="115" y="708" width="1" height="15" fill="#c0c0c0"/>
<rect x="123" y="708" width="1" height="15" fill="#c0c0c0"/>
<rect x="131" y="707" width="1" height="16" fill="#c0c0c0"/>
<rect x="139" y="705" width="1" height="18" fill="#c0c0c0"/>
<rect x="147" y="705" width="1" height="18" fill="#c0c0c0"/>
<rect x="155" y="702" width="1" height="21" fill="#c0c0c0"/>
<rect x="163" y="700" width="1" height="23" fill="#c0c0c0"/>
<rect x="171" y="697" width="1" height="26" fill="#c0c0c0"/>
<rect x="179" y="696" width="1" height="27" fill="#c0c0c0"/>
<rect x="187" y="695" width="1" height="28" fill="#c0c0c0"/>
<rect x="195" y="695" width="1" height="28" fill="#c0c0c0"/>
<rect x="203" y="691" width="1" height="32" fill="#c0c0c0"/>
<rect x="211" y="687" width="1" height="36" fill="#c0c0c0"/>
<rect x="219" y="683" width="1" height="40" fill="#c0c0c0"/>
<rect x="227" y="679" width="1" height="44" fill="#c0c0c0"/>
<rect x="235" y="675" width="1" height="48" fill="#c0c0c0"/>
<rect x="243" y="670" width="1" height="53" fill="#c0c0c0"/>
<rect x="251" y="667" width="1" height="56" fill="#c0c0c0"/>
<rect x="259" y="663" width="1" height="60" fill="#c0c0c0"/>
<rect x="267" y="660" width="1" height="63" fill="#c0c0c0"/>
<rect x="275" y="659" width="1" height="64" fill="#c0c0c0"/>
<rect x="283" y="659" width="1" height="64" fill="#c0c0c0"/>
<rect x="291" y="660" width="1" height="63" fill="#c0c0c0"/>
<rect x="299" y="661" width="1" height="62" fill="#c0c0c0"/>
<rect x="307" y="660" width="1" height="63" fill="#c0c0c0"/>
<rect x="315" y="661" width="1" height="62" fill="#c0c0c0"/>
<rect x="323" y="664" width="1" height="59" fill="#c0c0c0"/>
<rect x="331" y="667" width="1" height="56" fill="#c0c0c0"/>
<rect x="339" y="671" width="1" height="52" fill="#c0c0c0"/>
<rect x="347" y="675" width="1" height="48" fill="#c0c0c0"/>
<rect x="355" y="677" width="1" height="46" fill="#c0c0c0"/>
<rect x="363" y="679" width="1" height="44" fill="#c0c0c0"/>
<rect x="371" y="680" width="1" height="43" fill="#c0c0c0"/>
<rect x="379" y="680" width="1" height="43" fill="#c0c0c0"/>
<rect x="387" y="680" width="1" height="43" fill="#c0c0c0"/>
<rect x="395" y="678" width="1" height="45" fill="#c0c0c0"/>
<rect x="403" y="679" width="1" height="44" fill="#c0c0c0"/>
<rect x="411" y="682" width="1" height="41" fill="#c0c0c0"/>
<rect x="419" y="687" width="1" height="36" fill="#c0c0c0"/>
<rect x="427" y="691" width="1" height="32" fill="#c0c0c0"/>
<rect x="435" y="694" width="1" height="29" fill="#c0c0c0"/>
<rect x="443" y="697" width="1" height="26" fill="#c0c0c0"/>
<rect x="451" y="699" width="1" height="24" fill="#c0c0c0"/>
<rect x="459" y="700" width="1" height="23" fill="#c0c0c0"/>
<rect x="467" y="699" width="1" height="24" fill="#c0c0c0"/>
<rect x="475" y="698" width="1" height="25" fill="#c0c0c0"/>
<rect x="483" y="696" width="1" height="27" fill="#c0c0c0"/>
<rect x="491" y="695" width="1" height="28" fill="#c0c0c0"/>
<rect x="499" y="698" width="1" height="25" fill="#c0c0c0"/>
<rect x="507" y="701" width="1" height="22" fill="#c0c0c0"/>
<rect x="515" y="704" width="1" height="19" fill="#c0c0c0"/>
<rect x="523" y="705" width="1" height="18" fill="#c0c0c0"/>
<rect x="531" y="708" width="1" height="15" fill="#c0c0c0"/>
<rect x="539" y="711" width="1" height="12" fill="#c0c0c0"/>
<rect x="547" y="713" width="1" height="10" fill="#c0c0c0"/>
<rect x="555" y="712" width="1" height="11" fill="#c0c0c0"/>
<rect x="563" y="713" width="1" height="10" fill="#c0c0c0"/>
<rect x="571" y="714" width="1" height="9" fill="#c0c0c0"/>
<rect x="579" y="713" width="1" height="10" fill="#c0c0c0"/>
<rect x="587" y="714" width="1" height="9" fill="#c0c0c0"/>
<rect x="595" y="715" width="1" height="8" fill="#c0c0c0"/>
<rect x="603" y="716" width="1" height="7" fill="#c0c0c0"/>
<rect x="611" y="716" width="1" height="7" fill="#c0c0c0"/>
<rect x="619" y="716" width="1" height="7" fill="#c0c0c0"/>
<rect x="627" y="720" width="1" height="3" fill="#c0c0c0"/>
<rect x="635" y="722" width="1" height="4" fill="#c0c0c0"/>
<rect x="643" y="722" width="1" height="8" fill="#c0c0c0"/>
<rect x="651" y="722" width="1" height="12" fill="#c0c0c0"/>
<rect x="659" y="722" width="1" height="17" fill="#c0c0c0"/>
<rect x="667" y="722" width="1" height="20" fill="#c0c0c0"/>
<rect x="675" y="722" width="1" height="21" fill="#c0c0c0"/>
<rect x="683" y="722" width="1" height="20" fill="#c0c0c0"/>
<rect x="691" y="722" width="1" height="18" fill="#c0c0c0"/>
<rect x="699" y="722" width="1" height="15" fill="#c0c0c0"/>
<rect x="707" y="722" width="1" height="15" fill="#c0c0c0"/>
<rect x="715" y="722" width="1" height="14" fill="#c0c0c0"/>
<rect x="723" y="722" width="1" height="10" fill="#c0c0c0"/>
<rect x="731" y="722" width="1" height="8" fill="#c0c0c0"/>
<rect x="739" y="722" width="1" height="6" fill="#c0c0c0"/>
<rect x="747" y="722" width="1" height="6" fill="#c0c0c0"/>
<rect x="755" y="722" width="1" height="2" fill="#c0c0c0"/>
<rect x="763" y="721" width="1" height="2" fill="#c0c0c0"/>
<rect x="771" y="719" width="1" height="4" fill="#c0c0c0"/>
<rect x="779" y="721" width="1" height="2" fill="#c0c0c0"/>
<rect x="787" y="721" width="1" height="2" fill="#c0c0c0"/>
<rect x="795" y="722" width="1" height="2" fill="#c0c0c0"/>
<rect x="803" y="722" width="1" height="4" fill="#c0c0c0"/>
<rect x="811" y="722" width="1" height="5" fill="#c0c0c0"/>
<rect x="819" y="722" width="1" height="3" fill="#c0c0c0"/>
<rect x="827" y="721" width="1" height="2" fill="#c0c0c0"/>
<rect x="835" y="717" width="1" height="6" fill="#c0c0c0"/>
<rect x="843" y="716" width="1" height="7" fill="#c0c0c0"/>
<rect x="851" y="714" width="1" height="9" fill="#c0c0c0"/>
<rect x="859" y="712" width="1" height="11" fill="#c0c0c0"/>
<rect x="867" y="712" width="1" height="11" fill="#c0c0c0"/>
<rect x="875" y="712" width="1" height="11" fill="#c0c0c0"/>
<rect x="883" y="715" width="1" height="8" fill="#c0c0c0"/>
<rect x="891" y="721" width="1" height="2" fill="#c0c0c0"/>
<rect x="899" y="722" width="1" height="5" fill="#c0c0c0"/>
<rect x="907" y="722" width="1" height="8" fill="#c0c0c0"/>
<rect x="915" y="722" width="1" height="12" fill="#c0c0c0"/>
<rect x="923" y="722" width="1" height="11" fill="#c0c0c0"/>
<rect x="931" y="722" width="1" height="10" fill="#c0c0c0"/>
<rect x="939" y="722" width="1" height="6" fill="#c0c0c0"/>
<rect x="955" y="717" width="1" height="6" fill="#c0c0c0"/>
<rect x="963" y="716" width="1" height="7" fill="#c0c0c0"/>
<rect x="971" y="715" width="1" height="8" fill="#c0c0c0"/>
<rect x="979" y="717" width="1" height="6" fill="#c0c0c0"/>
<rect x="987" y="716" width="1" height="7" fill="#c0c0c0"/>
<rect x="995" y="715" width="1" height="8" fill="#c0c0c0"/>
<rect x="1003" y="714" width="1" height="9" fill="#c0c0c0"/>
<rect x="1011" y="713" width="1" height="10" fill="#c0c0c0"/>
<rect x="1019" y="711" width="1" height="12" fill="#c0c0c0"/>
<rect x="1027" y="710" width="1" height="13" fill="#c0c0c0"/>
<rect x="1035" y="710" width="1" height="13" fill="#c0c0c0"/>
<rect x="1043" y="710" width="1" height="13" fill="#c0c0c0"/>
<rect x="1051" y="710" width="1" height="13" fill="#c0c0c0"/>
<rect x="1059" y="712" width="1" height="11" fill="#c0c0c0"/>
<rect x="1067" y="711" width="1" height="12" fill="#c0c0c0"/>
<rect x="1075" y="709" width="1" height="14" fill="#c0c0c0"/>
<rect x="1083" y="708" width="1" height="15" fill="#c0c0c0"/>
<rect x="1091" y="706" width="1" height="17" fill="#c0c0c0"/>
<rect x="1099" y="704" width="1" height="19" fill="#c0c0c0"/>
<rect x="1107" y="702" width="1" height="21" fill="#c0c0c0"/>
<rect x="1115" y="699" width="1" height="24" fill="#c0c0c0"/>
<rect x="1123" y="695" width="1" height="28" fill="#c0c0c0"/>
<rect x="1131" y="689" width="1" height="34" fill="#c0c0c0"/>
<rect x="1139" y="685" width="1" height="38" fill="#c0c0c0"/>
<rect x="1147" y="683" width="1" height="40" fill="#c0c0c0"/>
<rect x="1155" y="682" width="1" height="41" fill="#c0c0c0"/>
<rect x="1163" y="682" width="1" height="41" fill="#c0c0c0"/>
<rect x="1171" y="684" width="1" height="39" fill="#c0c0c0"/>
<rect x="1179" y="684" width="1" height="39" fill="#c0c0c0"/>
<rect x="1187" y="685" width="1" height="38" fill="#c0c0c0"/>
<rect x="1195" y="686" width="1" height="37" fill="#c0c0c0"/>
<rect x="1203" y="687" width="1" height="36" fill="#c0c0c0"/>
<rect x="1211" y="687" width="1" height="36" fill="#c0c0c0"/>
<rect x="1219" y="686" width="1" height="37" fill="#c0c0c0"/>
<rect x="1227" y="684" width="1" height="39" fill="#c0c0c0"/>
<rect x="1235" y="683" width="1" height="40" fill="#c0c0c0"/>
<rect x="1243" y="682" width="1" height="41" fill="#c0c0c0"/>
<path d="M321 660h3v1h-3zM327 660h3v1h-3zM333 660h1v1h-1zM315 661h3v1h-3zM334 661h2v1h-2zM309 662h3v1h-3zM339 662h3v1h-3zM303 663h3v1h-3zM345 663h3v1h-3zM297 664h3v1h-3zM351 664h3v1h-3zM291 665h3v1h-3zM357 665h1v1h-1zM358 666h2v1h-2zM285 667h3v1h-3zM363 667h3v1h-3zM369 668h1v1h-1zM280 669h2v1h-2zM370 669h2v1h-2zM279 670h1v1h-1zM375 670h1v1h-1zM275 671h1v1h-1zM376 671h2v1h-2zM273 672h2v1h-2zM381 672h1v1h-1zM382 673h2v1h-2zM269 674h1v1h-1zM387 674h3v1h-3zM267 675h2v1h-2zM393 675h3v1h-3zM399 676h3v1h-3zM261 677h3v1h-3zM405 677h3v1h-3zM411 677h3v1h-3zM417 678h1v1h-1zM257 679h1v1h-1zM418 679h2v1h-2zM423 679h1v1h-1zM255 680h2v1h-2zM424 680h2v1h-2zM429 680h1v1h-1zM430 681h2v1h-2zM250 682h2v1h-2zM435 682h2v1h-2zM249 683h1v1h-1zM437 683h1v1h-1zM1192 683h2v1h-2zM1197 683h3v1h-3zM1203 683h3v1h-3zM1209 683h3v1h-3zM1215 683h3v1h-3zM1221 683h3v1h-3zM3 684h2v1h-2zM245 684h1v1h-1zM441 684h1v1h-1zM1185 684h3v1h-3zM1191 684h1v1h-1zM1227 684h3v1h-3zM1233 684h3v1h-3zM1239 684h3v1h-3zM5 685h1v1h-1zM243 685h2v1h-2zM442 685h2v1h-2zM1179 685h3v1h-3zM9 686h1v1h-1zM447 686h3v1h-3zM10 687h2v1h-2zM237 687h3v1h-3zM453 687h3v1h-3zM1173 687h3v1h-3zM15 688h3v1h-3zM459 688h3v1h-3zM231 689h3v1h-3zM465 689h1v1h-1zM1167 689h3v1h-3zM21 690h3v1h-3zM226 690h2v1h-2zM466 690h2v1h-2zM1162 690h2v1h-2zM225 691h1v1h-1zM471 691h3v1h-3zM1161 691h1v1h-1zM27 692h3v1h-3zM221 692h1v1h-1zM477 692h1v1h-1zM1157 692h1v1h-1zM33 693h1v1h-1zM219 693h2v1h-2zM478 693h2v1h-2zM1155 693h2v1h-2zM34 694h2v1h-2zM214 694h2v1h-2zM483 694h3v1h-3zM39 695h1v1h-1zM213 695h1v1h-1zM489 695h3v1h-3zM495 695h1v1h-1zM1149 695h3v1h-3zM40 696h2v1h-2zM207 696h3v1h-3zM496 696h2v1h-2zM501 696h3v1h-3zM45 697h1v1h-1zM202 697h2v1h-2zM507 697h3v1h-3zM1144 697h2v1h-2zM46 698h2v1h-2zM201 698h1v1h-1zM513 698h3v1h-3zM519 698h1v1h-1zM1143 698h1v1h-1zM51 699h3v1h-3zM195 699h3v1h-3zM520 699h2v1h-2zM525 699h3v1h-3zM531 699h3v1h-3zM1138 699h2v1h-2zM57 700h3v1h-3zM63 700h1v1h-1zM190 700h2v1h-2zM537 700h1v1h-1zM1137 700h1v1h-1zM64 701h2v1h-2zM69 701h1v1h-1zM184 701h2v1h-2zM189 701h1v1h-1zM538 701h2v1h-2zM543 701h1v1h-1zM1133 701h1v1h-1zM70 702h2v1h-2zM177 702h3v1h-3zM183 702h1v1h-1zM544 702h2v1h-2zM549 702h1v1h-1zM1131 702h2v1h-2zM75 703h3v1h-3zM171 703h3v1h-3zM550 703h2v1h-2zM1126 703h2v1h-2zM81 704h3v1h-3zM87 704h1v1h-1zM166 704h2v1h-2zM555 704h2v1h-2zM1125 704h1v1h-1zM88 705h2v1h-2zM93 705h1v1h-1zM160 705h2v1h-2zM165 705h1v1h-1zM557 705h1v1h-1zM1119 705h3v1h-3zM94 706h2v1h-2zM153 706h3v1h-3zM159 706h1v1h-1zM561 706h1v1h-1zM1114 706h2v1h-2zM99 707h3v1h-3zM105 707h3v1h-3zM111 707h1v1h-1zM136 707h2v1h-2zM141 707h3v1h-3zM147 707h3v1h-3zM562 707h2v1h-2zM567 707h1v1h-1zM1113 707h1v1h-1zM112 708h2v1h-2zM117 708h3v1h-3zM123 708h3v1h-3zM129 708h3v1h-3zM135 708h1v1h-1zM568 708h2v1h-2zM573 708h1v1h-1zM1096 708h2v1h-2zM1101 708h3v1h-3zM1107 708h3v1h-3zM574 709h2v1h-2zM1089 709h3v1h-3zM1095 709h1v1h-1zM579 710h3v1h-3zM1072 710h2v1h-2zM1077 710h3v1h-3zM1083 710h3v1h-3zM585 711h3v1h-3zM591 711h1v1h-1zM1059 711h3v1h-3zM1065 711h3v1h-3zM1071 711h1v1h-1zM592 712h2v1h-2zM597 712h3v1h-3zM1048 712h2v1h-2zM1053 712h3v1h-3zM603 713h3v1h-3zM1035 713h3v1h-3zM1041 713h3v1h-3zM1047 713h1v1h-1zM609 714h3v1h-3zM615 714h3v1h-3zM621 714h3v1h-3zM1024 714h2v1h-2zM1029 714h3v1h-3zM627 715h3v1h-3zM891 715h3v1h-3zM1017 715h3v1h-3zM1023 715h1v1h-1zM633 716h3v1h-3zM880 716h2v1h-2zM885 716h3v1h-3zM897 716h3v1h-3zM903 716h1v1h-1zM1011 716h3v1h-3zM639 717h3v1h-3zM873 717h3v1h-3zM879 717h1v1h-1zM904 717h2v1h-2zM909 717h1v1h-1zM1005 717h3v1h-3zM645 718h1v1h-1zM867 718h3v1h-3zM910 718h2v1h-2zM999 718h3v1h-3zM646 719h2v1h-2zM862 719h2v1h-2zM915 719h3v1h-3zM994 719h2v1h-2zM651 720h2v1h-2zM856 720h2v1h-2zM861 720h1v1h-1zM921 720h1v1h-1zM993 720h1v1h-1zM653 721h1v1h-1zM843 721h3v1h-3zM849 721h3v1h-3zM855 721h1v1h-1zM922 721h2v1h-2zM987 721h3v1h-3zM657 722h1v1h-1zM825 722h3v1h-3zM831 722h3v1h-3zM837 722h3v1h-3zM927 722h3v1h-3zM982 722h2v1h-2zM658 723h2v1h-2zM801 723h3v1h-3zM807 723h3v1h-3zM813 723h3v1h-3zM819 723h3v1h-3zM933 723h1v1h-1zM981 723h1v1h-1zM663 724h1v1h-1zM795 724h3v1h-3zM934 724h2v1h-2zM975 724h3v1h-3zM664 725h2v1h-2zM784 725h2v1h-2zM789 725h3v1h-3zM939 725h3v1h-3zM969 725h3v1h-3zM778 726h2v1h-2zM783 726h1v1h-1zM945 726h3v1h-3zM951 726h1v1h-1zM963 726h3v1h-3zM669 727h3v1h-3zM777 727h1v1h-1zM952 727h2v1h-2zM957 727h3v1h-3zM771 728h3v1h-3zM675 729h2v1h-2zM766 729h2v1h-2zM677 730h1v1h-1zM765 730h1v1h-1zM681 731h1v1h-1zM759 731h3v1h-3zM682 732h2v1h-2zM754 732h2v1h-2zM687 733h1v1h-1zM753 733h1v1h-1zM688 734h2v1h-2zM747 734h3v1h-3zM693 735h1v1h-1zM742 735h2v1h-2zM694 736h2v1h-2zM736 736h2v1h-2zM741 736h1v1h-1zM699 737h3v1h-3zM729 737h3v1h-3zM735 737h1v1h-1zM705 738h3v1h-3zM711 738h1v1h-1zM723 738h3v1h-3zM712 739h2v1h-2zM717 739h3v1h-3z" fill="#ff0000"/>
<rect x="2" y="25" width="1578" height="1" fill="#000"/>
<rect x="2" y="25" width="1" height="724" fill="#000"/>
<rect x="1579" y="25" width="1" height="724" fill="#000"/>
<rect x="2" y="552" width="1578" height="1" fill="#000"/>
<rect x="2" y="554" width="1578" height="1" fill="#000"/>
<rect x="2" y="650" width="1578" height="1" fill="#000"/>
<rect x="2" y="652" width="1578" height="1" fill="#000"/>
<rect x="2" y="748" width="1578" height="1" fill="#000"/>
<rect x="2" y="553" width="1578" height="1" fill="#fff"/>
<rect x="2" y="651" width="1578" height="1" fill="#fff"/>
<rect x="2" y="34" width="6" height="6" fill="#ff0000"/>
<rect x="4" y="36" width="2" height="2" fill="#fff"/>
<rect x="1573" y="34" width="6" height="6" fill="#ff0000"/>
<rect x="1575" y="36" width="2" height="2" fill="#fff"/>
<rect x="2" y="79" width="6" height="6" fill="#ff0000"/>
<rect x="4" y="81" width="2" height="2" fill="#fff"/>
<rect x="1573" y="79" width="6" height="6" fill="#ff0000"/>
<rect x="1575" y="81" width="2" height="2" fill="#fff"/>
<rect x="2" y="124" width="6" height="6" fill="#00ff00"/>
<rect x="4" y="126" width="2" height="2" fill="#fff"/>
<rect x="1573" y="124" width="6" height="6" fill="#00ff00"/>
<rect x="1575" y="126" width="2" height="2" fill="#fff"/>
<rect x="2" y="168" width="6" height="6" fill="#0000ff"/>
<rect x="4" y="170" width="2" height="2" fill="#fff"/>
<rect x="1573" y="168" width="6" height="6" fill="#0000ff"/>
<rect x="1575" y="170" width="2" height="2" fill="#fff"/>
<rect x="2" y="212" width="6" height="6" fill="#0000ff"/>
<rect x="4" y="214" width="2" height="2" fill="#fff"/>
<rect x="1573" y="212" width="6" height="6" fill="#0000ff"/>
<rect x="1575" y="214" width="2" height="2" fill="#fff"/>
<g font-family="Liberation Sans, sans-serif" font-size="9px" fill="#000">
<rect x="1580" y="54" width="2" height="1" fill="#000"/>
<text transform="translate(1585,58) scale(0.9221,1)" font-size="9.75px" fill="#000" stroke="#000" stroke-width="0.3" xml:space="preserve">1.22640</text>
<rect x="1580" y="87" width="2" height="1" fill="#000"/>
<text transform="translate(1585,91) scale(0.9221,1)" font-size="9.75px" fill="#000" stroke="#000" stroke-width="0.3" xml:space="preserve">1.21900</text>
<rect x="1580" y="120" width="2" height="1" fill="#000"/>
<text transform="translate(1585,124) scale(0.9415,1)" font-size="9.75px" fill="#000" stroke="#000" stroke-width="0.3" xml:space="preserve">1.21160</text>
<rect x="1580" y="153" width="2" height="1" fill="#000"/>
<text transform="translate(1585,157) scale(0.9221,1)" font-size="9.75px" fill="#000" stroke="#000" stroke-width="0.3" xml:space="preserve">1.20400</text>
<rect x="1580" y="186" width="2" height="1" fill="#000"/>
<text transform="translate(1585,190) scale(0.9221,1)" font-size="9.75px" fill="#000" stroke="#000" stroke-width="0.3" xml:space="preserve">1.19660</text>
<rect x="1580" y="219" width="2" height="1" fill="#000"/>
<text transform="translate(1585,223) scale(0.9221,1)" font-size="9.75px" fill="#000" stroke="#000" stroke-width="0.3" xml:space="preserve">1.18920</text>
<rect x="1580" y="252" width="2" height="1" fill="#000"/>
<text transform="translate(1585,256) scale(0.9221,1)" font-size="9.75px" fill="#000" stroke="#000" stroke-width="0.3" xml:space="preserve">1.18180</text>
<rect x="1580" y="285" width="2" height="1" fill="#000"/>
<text transform="translate(1585,289) scale(0.9221,1)" font-size="9.75px" fill="#000" stroke="#000" stroke-width="0.3" xml:space="preserve">1.17420</text>
<rect x="1580" y="318" width="2" height="1" fill="#000"/>
<text transform="translate(1585,322) scale(0.9221,1)" font-size="9.75px" fill="#000" stroke="#000" stroke-width="0.3" xml:space="preserve">1.16680</text>
<rect x="1580" y="352" width="2" height="1" fill="#000"/>
<text transform="translate(1585,356) scale(0.9221,1)" font-size="9.75px" fill="#000" stroke="#000" stroke-width="0.3" xml:space="preserve">1.15940</text>
<rect x="1580" y="385" width="2" height="1" fill="#000"/>
<text transform="translate(1585,389) scale(0.9221,1)" font-size="9.75px" fill="#000" stroke="#000" stroke-width="0.3" xml:space="preserve">1.15180</text>
<rect x="1580" y="418" width="2" height="1" fill="#000"/>
<text transform="translate(1585,422) scale(0.9221,1)" font-size="9.75px" fill="#000" stroke="#000" stroke-width="0.3" xml:space="preserve">1.14440</text>
<rect x="1580" y="451" width="2" height="1" fill="#000"/>
<text transform="translate(1585,455) scale(0.9221,1)" font-size="9.75px" fill="#000" stroke="#000" stroke-width="0.3" xml:space="preserve">1.13700</text>
<rect x="1580" y="484" width="2" height="1" fill="#000"/>
<text transform="translate(1585,488) scale(0.9221,1)" font-size="9.75px" fill="#000" stroke="#000" stroke-width="0.3" xml:space="preserve">1.12940</text>
<rect x="1580" y="517" width="2" height="1" fill="#000"/>
<text transform="translate(1585,521) scale(0.9221,1)" font-size="9.75px" fill="#000" stroke="#000" stroke-width="0.3" xml:space="preserve">1.12200</text>
<rect x="1580" y="550" width="2" height="1" fill="#000"/>
<text transform="translate(1585,554) scale(0.9415,1)" font-size="9.75px" fill="#000" stroke="#000" stroke-width="0.3" xml:space="preserve">1.11460</text>
<text transform="translate(1583,565) scale(0.9230,1)" font-size="9.75px" fill="#000" stroke="#000" stroke-width="0.3" xml:space="preserve">100</text>
<text transform="translate(1583,588) scale(0.9230,1)" font-size="9.75px" fill="#000" stroke="#000" stroke-width="0.3" xml:space="preserve">70</text>
<text transform="translate(1583,625) scale(0.9230,1)" font-size="9.75px" fill="#000" stroke="#000" stroke-width="0.3" xml:space="preserve">30</text>
<text transform="translate(1583,647) scale(0.9230,1)" font-size="9.75px" fill="#000" stroke="#000" stroke-width="0.3" xml:space="preserve">0</text>
<text transform="translate(1583,663) scale(0.9230,1)" font-size="9.75px" fill="#000" stroke="#000" stroke-width="0.3" xml:space="preserve">0.014384</text>
<text transform="translate(1583,726) scale(0.9230,1)" font-size="9.75px" fill="#000" stroke="#000" stroke-width="0.3" xml:space="preserve">0.00</text>
<text transform="translate(1583,745) scale(0.9230,1)" font-size="9.75px" fill="#000" stroke="#000" stroke-width="0.3" xml:space="preserve">-0.005390</text>
<rect x="1580" y="556" width="1" height="1" fill="#000"/>
<rect x="1580" y="650" width="1" height="1" fill="#000"/>
<rect x="1580" y="652" width="1" height="1" fill="#000"/>
<rect x="1580" y="722" width="1" height="1" fill="#000"/>
<rect x="1580" y="748" width="1" height="1" fill="#000"/>
<rect x="1581" y="59" width="39" height="11" fill="#000"/>
<text transform="translate(1585,68) scale(0.9221,1)" font-size="9.75px" fill="#fff" stroke="#fff" stroke-width="0.3" xml:space="preserve">1.22417</text>
<rect x="1581" y="31" width="39" height="11" fill="#ff0000"/>
<text transform="translate(1585,40) scale(0.9221,1)" font-size="9.75px" fill="#fff" stroke="#fff" stroke-width="0.3" xml:space="preserve">1.23022</text>
<rect x="1581" y="76" width="39" height="11" fill="#ff0000"/>
<text transform="translate(1585,85) scale(0.9221,1)" font-size="9.75px" fill="#fff" stroke="#fff" stroke-width="0.3" xml:space="preserve">1.22012</text>
<rect x="1581" y="121" width="39" height="11" fill="#00ff00"/>
<text transform="translate(1585,130) scale(0.9221,1)" font-size="9.75px" fill="#fff" stroke="#fff" stroke-width="0.3" xml:space="preserve">1.21000</text>
<rect x="1581" y="165" width="39" height="11" fill="#0000ff"/>
<text transform="translate(1585,174) scale(0.9221,1)" font-size="9.75px" fill="#fff" stroke="#fff" stroke-width="0.3" xml:space="preserve">1.19992</text>
<rect x="1581" y="209" width="39" height="11" fill="#0000ff"/>
<text transform="translate(1585,218) scale(0.9221,1)" font-size="9.75px" fill="#fff" stroke="#fff" stroke-width="0.3" xml:space="preserve">1.19008</text>
<text transform="translate(7.5,567) scale(0.9365,1)" font-size="9.75px" fill="#000" stroke="#000" stroke-width="0.3" xml:space="preserve">RSI(14) 74.0726</text>
<text transform="translate(7.5,665) scale(0.9548,1)" font-size="9.75px" fill="#000" stroke="#000" stroke-width="0.3" xml:space="preserve">MACD(12,26,9) 0.008515 0.007960</text>
<rect x="3" y="749" width="1" height="3" fill="#000"/>
<text transform="translate(2.2,761) scale(0.9260,1)" font-size="9.75px" fill="#000" stroke="#000" stroke-width="0.3" xml:space="preserve">22 Jun 2020</text>
<rect x="67" y="749" width="1" height="3" fill="#000"/>
<text transform="translate(66.2,761) scale(0.9290,1)" font-size="9.75px" fill="#000" stroke="#000" stroke-width="0.3" xml:space="preserve">1 Jul 2020</text>
<rect x="131" y="749" width="1" height="3" fill="#000"/>
<text transform="translate(130.2,761) scale(0.9263,1)" font-size="9.75px" fill="#000" stroke="#000" stroke-width="0.3" xml:space="preserve">10 Jul 2020</text>
<rect x="195" y="749" width="1" height="3" fill="#000"/>
<text transform="translate(194.2,761) scale(0.9184,1)" font-size="9.75px" fill="#000" stroke="#000" stroke-width="0.3" xml:space="preserve">20 Jul 2020</text>
<rect x="259" y="749" width="1" height="3" fill="#000"/>
<text transform="translate(258.2,761) scale(0.9263,1)" font-size="9.75px" fill="#000" stroke="#000" stroke-width="0.3" xml:space="preserve">29 Jul 2020</text>
<rect x="323" y="749" width="1" height="3" fill="#000"/>
<text transform="translate(322.2,761) scale(0.9667,1)" font-size="9.75px" fill="#000" stroke="#000" stroke-width="0.3" xml:space="preserve">7 Aug 2020</text>
<rect x="387" y="749" width="1" height="3" fill="#000"/>
<text transform="translate(386.2,761) scale(0.9550,1)" font-size="9.75px" fill="#000" stroke="#000" stroke-width="0.3" xml:space="preserve">17 Aug 2020</text>
<rect x="451" y="749" width="1" height="3" fill="#000"/>
<text transform="translate(450.2,761) scale(0.9623,1)" font-size="9.75px" fill="#000" stroke="#000" stroke-width="0.3" xml:space="preserve">26 Aug 2020</text>
<rect x="515" y="749" width="1" height="3" fill="#000"/>
<text transform="translate(514.2,761) scale(0.9363,1)" font-size="9.75px" fill="#000" stroke="#000" stroke-width="0.3" xml:space="preserve">4 Sep 2020</text>
<rect x="579" y="749" width="1" height="3" fill="#000"/>
<text transform="translate(578.2,761) scale(0.9349,1)" font-size="9.75px" fill="#000" stroke="#000" stroke-width="0.3" xml:space="preserve">14 Sep 2020</text>
<rect x="643" y="749" width="1" height="3" fill="#000"/>
<text transform="translate(642.2,761) scale(0.9349,1)" font-size="9.75px" fill="#000" stroke="#000" stroke-width="0.3" xml:space="preserve">23 Sep 2020</text>
<rect x="707" y="749" width="1" height="3" fill="#000"/>
<text transform="translate(706.2,761) scale(0.9497,1)" font-size="9.75px" fill="#000" stroke="#000" stroke-width="0.3" xml:space="preserve">2 Oct 2020</text>
<rect x="771" y="749" width="1" height="3" fill="#000"/>
<text transform="translate(770.2,761) scale(0.9469,1)" font-size="9.75px" fill="#000" stroke="#000" stroke-width="0.3" xml:space="preserve">12 Oct 2020</text>
<rect x="835" y="749" width="1" height="3" fill="#000"/>
<text transform="translate(834.2,761) scale(0.9413,1)" font-size="9.75px" fill="#000" stroke="#000" stroke-width="0.3" xml:space="preserve">21 Oct 2020</text>
<rect x="899" y="749" width="1" height="3" fill="#000"/>
<text transform="translate(898.2,761) scale(0.9544,1)" font-size="9.75px" fill="#000" stroke="#000" stroke-width="0.3" xml:space="preserve">30 Oct 2020</text>
<rect x="963" y="749" width="1" height="3" fill="#000"/>
<text transform="translate(962.2,761) scale(0.9685,1)" font-size="9.75px" fill="#000" stroke="#000" stroke-width="0.3" xml:space="preserve">9 Nov 2020</text>
<rect x="1027" y="749" width="1" height="3" fill="#000"/>
<text transform="translate(1026.2,761) scale(0.9640,1)" font-size="9.75px" fill="#000" stroke="#000" stroke-width="0.3" xml:space="preserve">18 Nov 2020</text>
<rect x="1091" y="749" width="1" height="3" fill="#000"/>
<text transform="translate(1090.2,761) scale(0.9766,1)" font-size="9.75px" fill="#000" stroke="#000" stroke-width="0.3" xml:space="preserve">27 Nov 2020</text>
<rect x="1155" y="749" width="1" height="3" fill="#000"/>
<text transform="translate(1154.2,761) scale(0.9425,1)" font-size="9.75px" fill="#000" stroke="#000" stroke-width="0.3" xml:space="preserve">7 Dec 2020</text>
<rect x="1219" y="749" width="1" height="3" fill="#000"/>
<text transform="translate(1218.2,761) scale(0.9350,1)" font-size="9.75px" fill="#000" stroke="#000" stroke-width="0.3" xml:space="preserve">16 Dec 2020</text>
</g>
<!-- tab bar -->
<rect x="0" y="769" width="1620" height="1" fill="#e8e8e8"/>
<rect x="0" y="771" width="1620" height="24" fill="#f0f0f0"/>
<rect x="0" y="790" width="1620" height="2" fill="#fafafa"/>
<rect x="0" y="771" width="1620" height="1" fill="#000"/>
<rect x="3" y="772" width="1" height="18" fill="#fff"/>
<rect x="4" y="771" width="104" height="19" fill="#000"/>
<rect x="5" y="770" width="102" height="19" fill="#fff"/>
<g font-family="Liberation Sans, sans-serif"><text transform="translate(118.3,786) scale(0.9722,1)" font-size="12.3px" fill="#6e6e6e" xml:space="preserve">USDCHF,Daily</text>
<text transform="translate(219,786) scale(0.9916,1)" font-size="12.3px" fill="#6e6e6e" xml:space="preserve">AUDUSD,Daily</text>
<text transform="translate(323.3,786) scale(0.9759,1)" font-size="12.3px" fill="#6e6e6e" xml:space="preserve">USDCAD,Daily</text>
<text transform="translate(426,786) scale(0.9955,1)" font-size="12.3px" fill="#6e6e6e" xml:space="preserve">USDCNH,Daily</text>
<text transform="translate(533,786) scale(0.9517,1)" font-size="12.3px" fill="#6e6e6e" xml:space="preserve">EURUSD,Daily</text>
<text transform="translate(636,786) scale(0.9467,1)" font-size="12.3px" fill="#6e6e6e" xml:space="preserve">GBPUSD,H4</text>
<text transform="translate(726,786) scale(1.0023,1)" font-size="12.3px" fill="#6e6e6e" xml:space="preserve">XAUUSD,Weekly</text>
<text transform="translate(843.3,786) scale(0.9818,1)" font-size="12.3px" fill="#6e6e6e" xml:space="preserve">HK50,H1</text>
<text transform="translate(915.7,786) scale(0.9745,1)" font-size="12.3px" fill="#6e6e6e" xml:space="preserve">UK100,H1</text>
<text transform="translate(995.7,786) scale(0.9745,1)" font-size="12.3px" fill="#6e6e6e" xml:space="preserve">UK100,H1</text>
<text transform="translate(1075.7,786) scale(0.9416,1)" font-size="12.3px" fill="#6e6e6e" xml:space="preserve">GER30,H1</text>
<text transform="translate(1154.3,786) scale(0.9404,1)" font-size="12.3px" fill="#6e6e6e" xml:space="preserve">FRA40,H1</text>
<text transform="translate(1230.7,786) scale(0.9861,1)" font-size="12.3px" fill="#6e6e6e" xml:space="preserve">USOil,Daily</text>
<text transform="translate(1314.3,786) scale(0.9443,1)" font-size="12.3px" fill="#6e6e6e" xml:space="preserve">USDJPY,H1</text>
<text transform="translate(1398.3,786) scale(0.9820,1)" font-size="12.3px" fill="#6e6e6e" xml:space="preserve">DJ30,Daily</text>
<text transform="translate(1478.3,786) scale(0.9970,1)" font-size="12.3px" fill="#6e6e6e" xml:space="preserve">CHINA300,H1</text>
<text transform="translate(1578.3,786) scale(0.9700,1)" font-size="12.3px" fill="#6e6e6e" xml:space="preserve">U:</text>
<text transform="translate(16.9,786) scale(0.9553,1)" font-size="12.3px" fill="#000" stroke="#000" stroke-width="0.15" xml:space="preserve">EURUSD,Daily</text>
<rect x="208" y="774" width="1" height="14" fill="#5a5a5a"/>
<rect x="312" y="774" width="1" height="14" fill="#5a5a5a"/>
<rect x="416" y="774" width="1" height="14" fill="#5a5a5a"/>
<rect x="520" y="774" width="1" height="14" fill="#5a5a5a"/>
<rect x="624" y="774" width="1" height="14" fill="#5a5a5a"/>
<rect x="716" y="774" width="1" height="14" fill="#5a5a5a"/>
<rect x="832" y="774" width="1" height="14" fill="#5a5a5a"/>
<rect x="904" y="774" width="1" height="14" fill="#5a5a5a"/>
<rect x="984" y="774" width="1" height="14" fill="#5a5a5a"/>
<rect x="1064" y="774" width="1" height="14" fill="#5a5a5a"/>
<rect x="1144" y="774" width="1" height="14" fill="#5a5a5a"/>
<rect x="1220" y="774" width="1" height="14" fill="#5a5a5a"/>
<rect x="1304" y="774" width="1" height="14" fill="#5a5a5a"/>
<rect x="1388" y="774" width="1" height="14" fill="#5a5a5a"/>
<rect x="1468" y="774" width="1" height="14" fill="#5a5a5a"/>
<rect x="1568" y="774" width="1" height="14" fill="#5a5a5a"/></g>
<rect x="1590" y="772" width="30" height="18" fill="#f0f0f0"/>
<path d="M1594.5 780l4-3.2v6.4z" fill="#a0a0a0" shape-rendering="geometricPrecision"/>
<path d="M1617.5 780l-4-3.2v6.4z" fill="#000" shape-rendering="geometricPrecision"/>
</svg>
</body></html>
